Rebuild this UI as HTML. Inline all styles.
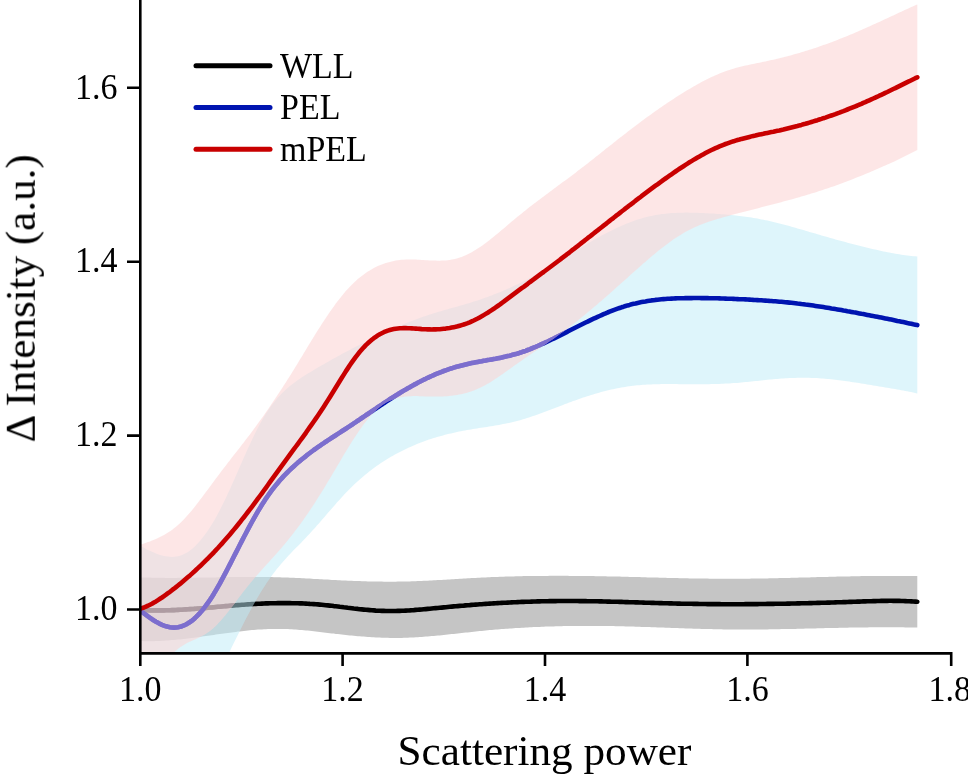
<!DOCTYPE html>
<html><head><meta charset="utf-8"><style>html,body{margin:0;padding:0;background:#fff;}svg{display:block}</style></head>
<body><svg width="968" height="776" viewBox="0 0 968 776">
<defs><clipPath id="pa"><rect x="140" y="0" width="828" height="653"/></clipPath>
<clipPath id="mb"><path d="M140.0,544.8 L142.0,544.2 L144.0,543.5 L146.0,542.8 L148.0,542.1 L150.0,541.4 L152.0,540.6 L154.0,539.8 L156.0,539.0 L158.0,538.1 L160.0,537.1 L162.0,536.1 L164.0,535.0 L166.0,533.8 L168.0,532.6 L170.0,531.3 L172.0,529.9 L174.0,528.3 L176.0,526.7 L178.0,525.0 L180.0,523.2 L182.0,521.2 L184.0,519.2 L186.0,517.1 L188.0,514.8 L190.0,512.5 L192.0,510.2 L194.0,507.7 L195.9,505.2 L197.9,502.7 L199.9,500.1 L201.9,497.4 L203.9,494.8 L205.9,492.1 L207.9,489.4 L209.9,486.7 L211.9,483.9 L213.9,481.2 L215.9,478.5 L217.9,475.9 L219.9,473.2 L221.9,470.6 L223.9,468.0 L225.9,465.4 L227.9,462.8 L229.9,460.2 L231.9,457.6 L233.9,455.1 L235.9,452.5 L237.9,449.9 L239.9,447.4 L241.9,444.8 L243.9,442.2 L245.9,439.6 L247.9,437.0 L249.9,434.4 L251.9,431.7 L253.9,429.0 L255.9,426.3 L257.9,423.6 L259.9,420.8 L261.9,418.0 L263.9,415.2 L265.9,412.3 L267.9,409.4 L269.9,406.5 L271.9,403.6 L273.9,400.6 L275.9,397.6 L277.9,394.6 L279.9,391.5 L281.9,388.4 L283.9,385.3 L285.9,382.2 L287.9,379.0 L289.9,375.9 L291.9,372.7 L293.9,369.4 L295.9,366.2 L297.9,362.9 L299.9,359.6 L301.9,356.4 L303.9,353.1 L305.9,349.8 L307.8,346.5 L309.8,343.2 L311.8,340.0 L313.8,336.7 L315.8,333.5 L317.8,330.3 L319.8,327.2 L321.8,324.1 L323.8,321.0 L325.8,318.0 L327.8,315.0 L329.8,312.1 L331.8,309.2 L333.8,306.4 L335.8,303.6 L337.8,301.0 L339.8,298.4 L341.8,295.9 L343.8,293.5 L345.8,291.1 L347.8,288.9 L349.8,286.7 L351.8,284.7 L353.8,282.7 L355.8,280.9 L357.8,279.1 L359.8,277.5 L361.8,275.9 L363.8,274.4 L365.8,273.0 L367.8,271.6 L369.8,270.4 L371.8,269.2 L373.8,268.1 L375.8,267.1 L377.8,266.1 L379.8,265.3 L381.8,264.5 L383.8,263.7 L385.8,263.0 L387.8,262.4 L389.8,261.9 L391.8,261.4 L393.8,261.0 L395.8,260.6 L397.8,260.3 L399.8,260.0 L401.8,259.8 L403.8,259.7 L405.8,259.6 L407.8,259.5 L409.8,259.5 L411.8,259.5 L413.8,259.5 L415.8,259.6 L417.7,259.7 L419.7,259.8 L421.7,259.9 L423.7,260.0 L425.7,260.2 L427.7,260.3 L429.7,260.4 L431.7,260.5 L433.7,260.6 L435.7,260.6 L437.7,260.7 L439.7,260.7 L441.7,260.6 L443.7,260.5 L445.7,260.4 L447.7,260.2 L449.7,259.9 L451.7,259.6 L453.7,259.2 L455.7,258.8 L457.7,258.2 L459.7,257.6 L461.7,256.9 L463.7,256.1 L465.7,255.3 L467.7,254.3 L469.7,253.3 L471.7,252.2 L473.7,251.0 L475.7,249.8 L477.7,248.6 L479.7,247.2 L481.7,245.9 L483.7,244.4 L485.7,243.0 L487.7,241.5 L489.7,239.9 L491.7,238.3 L493.7,236.7 L495.7,235.1 L497.7,233.5 L499.7,231.8 L501.7,230.1 L503.7,228.4 L505.7,226.7 L507.7,225.0 L509.7,223.3 L511.7,221.6 L513.7,220.0 L515.7,218.3 L517.7,216.6 L519.7,215.0 L521.7,213.4 L523.7,211.8 L525.7,210.2 L527.7,208.6 L529.6,207.0 L531.6,205.5 L533.6,204.0 L535.6,202.4 L537.6,200.9 L539.6,199.4 L541.6,197.9 L543.6,196.4 L545.6,194.9 L547.6,193.4 L549.6,192.0 L551.6,190.5 L553.6,189.0 L555.6,187.5 L557.6,186.1 L559.6,184.6 L561.6,183.1 L563.6,181.6 L565.6,180.2 L567.6,178.7 L569.6,177.2 L571.6,175.7 L573.6,174.2 L575.6,172.7 L577.6,171.1 L579.6,169.6 L581.6,168.1 L583.6,166.5 L585.6,164.9 L587.6,163.4 L589.6,161.8 L591.6,160.2 L593.6,158.7 L595.6,157.1 L597.6,155.5 L599.6,153.9 L601.6,152.3 L603.6,150.7 L605.6,149.1 L607.6,147.5 L609.6,146.0 L611.6,144.4 L613.6,142.8 L615.6,141.2 L617.6,139.6 L619.6,138.0 L621.6,136.5 L623.6,134.9 L625.6,133.4 L627.6,131.8 L629.6,130.3 L631.6,128.7 L633.6,127.2 L635.6,125.7 L637.6,124.2 L639.6,122.7 L641.5,121.2 L643.5,119.7 L645.5,118.3 L647.5,116.8 L649.5,115.4 L651.5,113.9 L653.5,112.5 L655.5,111.1 L657.5,109.7 L659.5,108.3 L661.5,106.9 L663.5,105.5 L665.5,104.2 L667.5,102.8 L669.5,101.5 L671.5,100.2 L673.5,98.9 L675.5,97.6 L677.5,96.3 L679.5,95.0 L681.5,93.8 L683.5,92.5 L685.5,91.3 L687.5,90.1 L689.5,88.9 L691.5,87.7 L693.5,86.6 L695.5,85.4 L697.5,84.3 L699.5,83.2 L701.5,82.1 L703.5,81.1 L705.5,80.0 L707.5,79.0 L709.5,78.1 L711.5,77.1 L713.5,76.2 L715.5,75.3 L717.5,74.4 L719.5,73.6 L721.5,72.8 L723.5,72.0 L725.5,71.3 L727.5,70.6 L729.5,69.9 L731.5,69.3 L733.5,68.7 L735.5,68.1 L737.5,67.6 L739.5,67.1 L741.5,66.6 L743.5,66.1 L745.5,65.6 L747.5,65.2 L749.5,64.7 L751.4,64.3 L753.4,63.9 L755.4,63.5 L757.4,63.1 L759.4,62.7 L761.4,62.2 L763.4,61.8 L765.4,61.4 L767.4,61.0 L769.4,60.6 L771.4,60.1 L773.4,59.7 L775.4,59.2 L777.4,58.7 L779.4,58.3 L781.4,57.8 L783.4,57.3 L785.4,56.8 L787.4,56.2 L789.4,55.7 L791.4,55.2 L793.4,54.6 L795.4,54.0 L797.4,53.5 L799.4,52.9 L801.4,52.3 L803.4,51.7 L805.4,51.1 L807.4,50.5 L809.4,49.8 L811.4,49.2 L813.4,48.5 L815.4,47.9 L817.4,47.2 L819.4,46.5 L821.4,45.8 L823.4,45.1 L825.4,44.4 L827.4,43.7 L829.4,42.9 L831.4,42.2 L833.4,41.4 L835.4,40.7 L837.4,39.9 L839.4,39.1 L841.4,38.3 L843.4,37.5 L845.4,36.7 L847.4,35.9 L849.4,35.1 L851.4,34.3 L853.4,33.4 L855.4,32.6 L857.4,31.7 L859.4,30.8 L861.4,30.0 L863.3,29.1 L865.3,28.2 L867.3,27.3 L869.3,26.4 L871.3,25.5 L873.3,24.6 L875.3,23.7 L877.3,22.8 L879.3,21.9 L881.3,20.9 L883.3,20.0 L885.3,19.1 L887.3,18.2 L889.3,17.2 L891.3,16.3 L893.3,15.4 L895.3,14.4 L897.3,13.5 L899.3,12.6 L901.3,11.7 L903.3,10.7 L905.3,9.8 L907.3,8.9 L909.3,8.0 L911.3,7.1 L913.3,6.2 L915.3,5.3 L917.3,4.4 L917.3,149.9 L915.3,151.0 L913.3,152.1 L911.3,153.1 L909.3,154.1 L907.3,155.1 L905.3,156.1 L903.3,157.1 L901.3,158.1 L899.3,159.1 L897.3,160.0 L895.3,160.9 L893.3,161.9 L891.3,162.8 L889.3,163.7 L887.3,164.6 L885.3,165.5 L883.3,166.3 L881.3,167.2 L879.3,168.1 L877.3,169.0 L875.3,169.8 L873.3,170.7 L871.3,171.5 L869.3,172.4 L867.3,173.2 L865.3,174.0 L863.3,174.9 L861.3,175.7 L859.3,176.5 L857.3,177.3 L855.3,178.1 L853.3,178.9 L851.3,179.7 L849.3,180.5 L847.3,181.2 L845.3,182.0 L843.3,182.8 L841.3,183.5 L839.3,184.2 L837.3,185.0 L835.3,185.7 L833.3,186.4 L831.3,187.1 L829.3,187.8 L827.3,188.5 L825.3,189.1 L823.3,189.8 L821.3,190.5 L819.3,191.1 L817.3,191.8 L815.3,192.4 L813.3,193.0 L811.3,193.6 L809.3,194.2 L807.3,194.8 L805.3,195.4 L803.3,196.0 L801.3,196.6 L799.3,197.2 L797.3,197.8 L795.3,198.3 L793.2,198.9 L791.2,199.4 L789.2,200.0 L787.2,200.5 L785.2,201.1 L783.2,201.6 L781.2,202.2 L779.2,202.7 L777.2,203.2 L775.2,203.7 L773.2,204.3 L771.2,204.8 L769.2,205.3 L767.2,205.8 L765.2,206.3 L763.2,206.8 L761.2,207.3 L759.2,207.9 L757.2,208.4 L755.2,208.9 L753.2,209.4 L751.2,209.9 L749.2,210.4 L747.2,210.9 L745.2,211.4 L743.2,212.0 L741.2,212.5 L739.2,213.0 L737.2,213.5 L735.2,214.1 L733.2,214.6 L731.2,215.1 L729.2,215.7 L727.2,216.2 L725.2,216.8 L723.2,217.3 L721.2,217.9 L719.2,218.5 L717.2,219.1 L715.2,219.7 L713.2,220.3 L711.2,220.9 L709.2,221.6 L707.2,222.3 L705.2,223.0 L703.2,223.8 L701.2,224.5 L699.2,225.3 L697.2,226.2 L695.2,227.1 L693.2,228.0 L691.2,228.9 L689.2,229.9 L687.2,231.0 L685.2,232.1 L683.2,233.2 L681.2,234.4 L679.2,235.7 L677.2,237.0 L675.2,238.3 L673.2,239.6 L671.2,241.0 L669.2,242.5 L667.2,243.9 L665.2,245.4 L663.2,247.0 L661.2,248.5 L659.2,250.1 L657.2,251.7 L655.2,253.4 L653.2,255.1 L651.2,256.7 L649.2,258.4 L647.2,260.2 L645.2,261.9 L643.2,263.6 L641.2,265.4 L639.2,267.2 L637.2,268.9 L635.2,270.7 L633.2,272.5 L631.2,274.3 L629.2,276.1 L627.2,277.9 L625.2,279.7 L623.2,281.5 L621.2,283.3 L619.2,285.1 L617.2,286.8 L615.2,288.6 L613.2,290.4 L611.2,292.2 L609.2,293.9 L607.2,295.7 L605.2,297.4 L603.2,299.2 L601.2,300.9 L599.2,302.6 L597.2,304.4 L595.2,306.1 L593.2,307.8 L591.2,309.5 L589.2,311.1 L587.2,312.8 L585.2,314.5 L583.2,316.1 L581.2,317.7 L579.2,319.3 L577.2,320.9 L575.2,322.5 L573.2,324.1 L571.2,325.6 L569.2,327.2 L567.2,328.7 L565.2,330.2 L563.2,331.7 L561.2,333.1 L559.2,334.6 L557.2,336.0 L555.2,337.4 L553.2,338.9 L551.2,340.3 L549.2,341.6 L547.2,343.0 L545.1,344.4 L543.1,345.8 L541.1,347.1 L539.1,348.5 L537.1,349.9 L535.1,351.2 L533.1,352.6 L531.1,354.0 L529.1,355.3 L527.1,356.7 L525.1,358.1 L523.1,359.5 L521.1,360.9 L519.1,362.3 L517.1,363.7 L515.1,365.1 L513.1,366.5 L511.1,368.0 L509.1,369.4 L507.1,370.8 L505.1,372.3 L503.1,373.7 L501.1,375.1 L499.1,376.4 L497.1,377.8 L495.1,379.1 L493.1,380.4 L491.1,381.7 L489.1,382.9 L487.1,384.1 L485.1,385.2 L483.1,386.3 L481.1,387.3 L479.1,388.2 L477.1,389.1 L475.1,390.0 L473.1,390.7 L471.1,391.5 L469.1,392.1 L467.1,392.7 L465.1,393.3 L463.1,393.8 L461.1,394.2 L459.1,394.6 L457.1,395.0 L455.1,395.3 L453.1,395.6 L451.1,395.8 L449.1,396.0 L447.1,396.2 L445.1,396.3 L443.1,396.4 L441.1,396.5 L439.1,396.5 L437.1,396.6 L435.1,396.6 L433.1,396.6 L431.1,396.5 L429.1,396.5 L427.1,396.4 L425.1,396.4 L423.1,396.3 L421.1,396.2 L419.1,396.2 L417.1,396.1 L415.1,396.1 L413.1,396.1 L411.1,396.2 L409.1,396.3 L407.1,396.4 L405.1,396.6 L403.1,396.9 L401.1,397.2 L399.1,397.6 L397.1,398.1 L395.1,398.7 L393.1,399.4 L391.1,400.2 L389.1,401.1 L387.1,402.1 L385.1,403.2 L383.1,404.5 L381.1,405.9 L379.1,407.5 L377.1,409.2 L375.1,411.0 L373.1,413.1 L371.1,415.2 L369.1,417.5 L367.1,419.9 L365.1,422.5 L363.1,425.1 L361.1,427.9 L359.1,430.8 L357.1,433.7 L355.1,436.7 L353.1,439.8 L351.1,443.0 L349.1,446.2 L347.1,449.5 L345.1,452.8 L343.1,456.1 L341.1,459.5 L339.1,462.9 L337.1,466.3 L335.1,469.7 L333.1,473.1 L331.1,476.4 L329.1,479.8 L327.1,483.1 L325.1,486.4 L323.1,489.7 L321.1,492.9 L319.1,496.1 L317.1,499.2 L315.1,502.4 L313.1,505.4 L311.1,508.5 L309.1,511.5 L307.1,514.4 L305.1,517.3 L303.1,520.2 L301.1,523.0 L299.1,525.7 L297.0,528.5 L295.0,531.1 L293.0,533.7 L291.0,536.3 L289.0,538.8 L287.0,541.3 L285.0,543.7 L283.0,546.0 L281.0,548.4 L279.0,550.7 L277.0,552.9 L275.0,555.2 L273.0,557.4 L271.0,559.6 L269.0,561.9 L267.0,564.1 L265.0,566.3 L263.0,568.5 L261.0,570.8 L259.0,573.0 L257.0,575.3 L255.0,577.6 L253.0,580.0 L251.0,582.3 L249.0,584.8 L247.0,587.2 L245.0,589.8 L243.0,592.3 L241.0,595.0 L239.0,597.6 L237.0,600.2 L235.0,602.9 L233.0,605.5 L231.0,608.1 L229.0,610.7 L227.0,613.2 L225.0,615.7 L223.0,618.1 L221.0,620.4 L219.0,622.6 L217.0,624.7 L215.0,626.7 L213.0,628.5 L211.0,630.2 L209.0,631.7 L207.0,633.1 L205.0,634.4 L203.0,635.5 L201.0,636.6 L199.0,637.5 L197.0,638.5 L195.0,639.4 L193.0,640.3 L191.0,641.2 L189.0,642.1 L187.0,643.1 L185.0,644.2 L183.0,645.4 L181.0,646.7 L179.0,648.1 L177.0,649.7 L175.0,651.4 L173.0,653.4 L153.0,760.0 L140.0,760.0 Z"/></clipPath></defs>
<rect width="968" height="776" fill="#fff"/>
<g clip-path="url(#pa)">
<path d="M140.0,577.4 L142.0,577.4 L144.0,577.5 L146.0,577.5 L148.0,577.6 L150.0,577.6 L152.0,577.7 L154.0,577.7 L156.0,577.8 L158.0,577.8 L160.0,577.8 L162.0,577.8 L164.0,577.8 L166.0,577.9 L168.0,577.9 L170.0,577.9 L172.0,577.9 L174.0,577.9 L176.0,577.9 L178.0,577.8 L180.0,577.8 L182.0,577.8 L184.0,577.8 L186.0,577.8 L188.0,577.8 L190.0,577.7 L192.0,577.7 L194.0,577.7 L195.9,577.7 L197.9,577.6 L199.9,577.6 L201.9,577.6 L203.9,577.6 L205.9,577.5 L207.9,577.5 L209.9,577.5 L211.9,577.4 L213.9,577.4 L215.9,577.4 L217.9,577.3 L219.9,577.3 L221.9,577.3 L223.9,577.2 L225.9,577.2 L227.9,577.2 L229.9,577.1 L231.9,577.1 L233.9,577.1 L235.9,577.1 L237.9,577.1 L239.9,577.0 L241.9,577.0 L243.9,577.0 L245.9,577.0 L247.9,577.0 L249.9,577.0 L251.9,577.0 L253.9,577.0 L255.9,577.0 L257.9,577.0 L259.9,577.0 L261.9,577.0 L263.9,577.0 L265.9,577.0 L267.9,577.1 L269.9,577.1 L271.9,577.1 L273.9,577.2 L275.9,577.2 L277.9,577.3 L279.9,577.3 L281.9,577.4 L283.9,577.5 L285.9,577.5 L287.9,577.6 L289.9,577.7 L291.9,577.8 L293.9,577.8 L295.9,577.9 L297.9,578.0 L299.9,578.1 L301.9,578.2 L303.9,578.3 L305.9,578.4 L307.8,578.5 L309.8,578.6 L311.8,578.8 L313.8,578.9 L315.8,579.0 L317.8,579.1 L319.8,579.2 L321.8,579.3 L323.8,579.4 L325.8,579.5 L327.8,579.6 L329.8,579.8 L331.8,579.9 L333.8,580.0 L335.8,580.1 L337.8,580.2 L339.8,580.3 L341.8,580.4 L343.8,580.5 L345.8,580.6 L347.8,580.7 L349.8,580.8 L351.8,580.8 L353.8,580.9 L355.8,581.0 L357.8,581.1 L359.8,581.1 L361.8,581.2 L363.8,581.3 L365.8,581.3 L367.8,581.4 L369.8,581.4 L371.8,581.5 L373.8,581.5 L375.8,581.6 L377.8,581.6 L379.8,581.6 L381.8,581.6 L383.8,581.7 L385.8,581.7 L387.8,581.7 L389.8,581.7 L391.8,581.7 L393.8,581.7 L395.8,581.7 L397.8,581.6 L399.8,581.6 L401.8,581.6 L403.8,581.5 L405.8,581.5 L407.8,581.4 L409.8,581.4 L411.8,581.3 L413.8,581.3 L415.8,581.2 L417.7,581.1 L419.7,581.0 L421.7,580.9 L423.7,580.8 L425.7,580.8 L427.7,580.7 L429.7,580.6 L431.7,580.5 L433.7,580.3 L435.7,580.2 L437.7,580.1 L439.7,580.0 L441.7,579.9 L443.7,579.8 L445.7,579.7 L447.7,579.5 L449.7,579.4 L451.7,579.3 L453.7,579.2 L455.7,579.1 L457.7,578.9 L459.7,578.8 L461.7,578.7 L463.7,578.6 L465.7,578.4 L467.7,578.3 L469.7,578.2 L471.7,578.1 L473.7,578.0 L475.7,577.9 L477.7,577.8 L479.7,577.7 L481.7,577.6 L483.7,577.5 L485.7,577.4 L487.7,577.3 L489.7,577.2 L491.7,577.1 L493.7,577.0 L495.7,577.0 L497.7,576.9 L499.7,576.8 L501.7,576.7 L503.7,576.7 L505.7,576.6 L507.7,576.5 L509.7,576.5 L511.7,576.4 L513.7,576.4 L515.7,576.3 L517.7,576.3 L519.7,576.2 L521.7,576.2 L523.7,576.1 L525.7,576.1 L527.7,576.1 L529.6,576.0 L531.6,576.0 L533.6,576.0 L535.6,576.0 L537.6,575.9 L539.6,575.9 L541.6,575.9 L543.6,575.9 L545.6,575.9 L547.6,575.9 L549.6,575.8 L551.6,575.8 L553.6,575.8 L555.6,575.8 L557.6,575.8 L559.6,575.8 L561.6,575.8 L563.6,575.8 L565.6,575.8 L567.6,575.8 L569.6,575.9 L571.6,575.9 L573.6,575.9 L575.6,575.9 L577.6,575.9 L579.6,575.9 L581.6,576.0 L583.6,576.0 L585.6,576.0 L587.6,576.0 L589.6,576.1 L591.6,576.1 L593.6,576.1 L595.6,576.2 L597.6,576.2 L599.6,576.2 L601.6,576.3 L603.6,576.3 L605.6,576.3 L607.6,576.4 L609.6,576.4 L611.6,576.5 L613.6,576.5 L615.6,576.5 L617.6,576.6 L619.6,576.6 L621.6,576.7 L623.6,576.7 L625.6,576.8 L627.6,576.8 L629.6,576.9 L631.6,576.9 L633.6,577.0 L635.6,577.0 L637.6,577.1 L639.6,577.1 L641.5,577.2 L643.5,577.2 L645.5,577.3 L647.5,577.4 L649.5,577.4 L651.5,577.5 L653.5,577.5 L655.5,577.6 L657.5,577.6 L659.5,577.7 L661.5,577.7 L663.5,577.8 L665.5,577.8 L667.5,577.9 L669.5,577.9 L671.5,578.0 L673.5,578.0 L675.5,578.1 L677.5,578.1 L679.5,578.2 L681.5,578.2 L683.5,578.2 L685.5,578.3 L687.5,578.3 L689.5,578.4 L691.5,578.4 L693.5,578.4 L695.5,578.5 L697.5,578.5 L699.5,578.5 L701.5,578.6 L703.5,578.6 L705.5,578.6 L707.5,578.6 L709.5,578.7 L711.5,578.7 L713.5,578.7 L715.5,578.7 L717.5,578.7 L719.5,578.8 L721.5,578.8 L723.5,578.8 L725.5,578.8 L727.5,578.8 L729.5,578.8 L731.5,578.8 L733.5,578.8 L735.5,578.8 L737.5,578.8 L739.5,578.7 L741.5,578.7 L743.5,578.7 L745.5,578.7 L747.5,578.7 L749.5,578.7 L751.4,578.6 L753.4,578.6 L755.4,578.6 L757.4,578.5 L759.4,578.5 L761.4,578.5 L763.4,578.4 L765.4,578.4 L767.4,578.4 L769.4,578.3 L771.4,578.3 L773.4,578.2 L775.4,578.2 L777.4,578.2 L779.4,578.1 L781.4,578.1 L783.4,578.0 L785.4,578.0 L787.4,577.9 L789.4,577.9 L791.4,577.8 L793.4,577.8 L795.4,577.7 L797.4,577.7 L799.4,577.6 L801.4,577.6 L803.4,577.5 L805.4,577.5 L807.4,577.4 L809.4,577.4 L811.4,577.3 L813.4,577.2 L815.4,577.2 L817.4,577.1 L819.4,577.1 L821.4,577.0 L823.4,577.0 L825.4,576.9 L827.4,576.9 L829.4,576.8 L831.4,576.8 L833.4,576.7 L835.4,576.7 L837.4,576.6 L839.4,576.6 L841.4,576.5 L843.4,576.5 L845.4,576.4 L847.4,576.4 L849.4,576.4 L851.4,576.3 L853.4,576.3 L855.4,576.2 L857.4,576.2 L859.4,576.2 L861.4,576.1 L863.3,576.1 L865.3,576.1 L867.3,576.1 L869.3,576.0 L871.3,576.0 L873.3,576.0 L875.3,576.0 L877.3,575.9 L879.3,575.9 L881.3,575.9 L883.3,575.9 L885.3,575.9 L887.3,575.9 L889.3,575.9 L891.3,575.9 L893.3,575.9 L895.3,575.9 L897.3,575.9 L899.3,575.9 L901.3,575.9 L903.3,575.9 L905.3,576.0 L907.3,576.0 L909.3,576.0 L911.3,576.0 L913.3,576.1 L915.3,576.1 L917.3,576.1 L917.3,627.6 L915.3,627.6 L913.3,627.5 L911.3,627.5 L909.3,627.4 L907.3,627.4 L905.3,627.4 L903.3,627.3 L901.3,627.3 L899.3,627.3 L897.3,627.3 L895.3,627.3 L893.3,627.3 L891.3,627.3 L889.3,627.3 L887.3,627.2 L885.3,627.2 L883.3,627.3 L881.3,627.3 L879.3,627.3 L877.3,627.3 L875.3,627.3 L873.3,627.3 L871.3,627.3 L869.3,627.3 L867.3,627.4 L865.3,627.4 L863.3,627.4 L861.4,627.4 L859.4,627.5 L857.4,627.5 L855.4,627.5 L853.4,627.6 L851.4,627.6 L849.4,627.6 L847.4,627.7 L845.4,627.7 L843.4,627.8 L841.4,627.8 L839.4,627.8 L837.4,627.9 L835.4,627.9 L833.4,628.0 L831.4,628.0 L829.4,628.1 L827.4,628.1 L825.4,628.1 L823.4,628.2 L821.4,628.2 L819.4,628.3 L817.4,628.3 L815.4,628.4 L813.4,628.4 L811.4,628.5 L809.4,628.5 L807.4,628.6 L805.4,628.6 L803.4,628.7 L801.4,628.7 L799.4,628.8 L797.4,628.8 L795.4,628.9 L793.4,628.9 L791.4,628.9 L789.4,629.0 L787.4,629.0 L785.4,629.1 L783.4,629.1 L781.4,629.1 L779.4,629.2 L777.4,629.2 L775.4,629.2 L773.4,629.3 L771.4,629.3 L769.4,629.3 L767.4,629.4 L765.4,629.4 L763.4,629.4 L761.4,629.4 L759.4,629.5 L757.4,629.5 L755.4,629.5 L753.4,629.5 L751.4,629.5 L749.5,629.5 L747.5,629.5 L745.5,629.5 L743.5,629.5 L741.5,629.5 L739.5,629.5 L737.5,629.5 L735.5,629.5 L733.5,629.5 L731.5,629.5 L729.5,629.5 L727.5,629.4 L725.5,629.4 L723.5,629.4 L721.5,629.3 L719.5,629.3 L717.5,629.3 L715.5,629.2 L713.5,629.2 L711.5,629.1 L709.5,629.1 L707.5,629.1 L705.5,629.0 L703.5,628.9 L701.5,628.9 L699.5,628.8 L697.5,628.8 L695.5,628.7 L693.5,628.7 L691.5,628.6 L689.5,628.5 L687.5,628.5 L685.5,628.4 L683.5,628.3 L681.5,628.3 L679.5,628.2 L677.5,628.1 L675.5,628.1 L673.5,628.0 L671.5,627.9 L669.5,627.8 L667.5,627.8 L665.5,627.7 L663.5,627.6 L661.5,627.5 L659.5,627.5 L657.5,627.4 L655.5,627.3 L653.5,627.3 L651.5,627.2 L649.5,627.1 L647.5,627.1 L645.5,627.0 L643.5,626.9 L641.5,626.9 L639.6,626.8 L637.6,626.7 L635.6,626.7 L633.6,626.6 L631.6,626.6 L629.6,626.5 L627.6,626.4 L625.6,626.4 L623.6,626.3 L621.6,626.3 L619.6,626.2 L617.6,626.2 L615.6,626.2 L613.6,626.1 L611.6,626.1 L609.6,626.0 L607.6,626.0 L605.6,626.0 L603.6,626.0 L601.6,625.9 L599.6,625.9 L597.6,625.9 L595.6,625.9 L593.6,625.9 L591.6,625.9 L589.6,625.9 L587.6,625.9 L585.6,625.9 L583.6,625.9 L581.6,625.9 L579.6,625.9 L577.6,625.9 L575.6,625.9 L573.6,626.0 L571.6,626.0 L569.6,626.0 L567.6,626.0 L565.6,626.1 L563.6,626.1 L561.6,626.2 L559.6,626.2 L557.6,626.3 L555.6,626.3 L553.6,626.4 L551.6,626.4 L549.6,626.5 L547.6,626.6 L545.6,626.6 L543.6,626.7 L541.6,626.8 L539.6,626.9 L537.6,626.9 L535.6,627.0 L533.6,627.1 L531.6,627.2 L529.6,627.3 L527.7,627.4 L525.7,627.5 L523.7,627.7 L521.7,627.8 L519.7,627.9 L517.7,628.0 L515.7,628.1 L513.7,628.3 L511.7,628.4 L509.7,628.5 L507.7,628.7 L505.7,628.8 L503.7,629.0 L501.7,629.1 L499.7,629.3 L497.7,629.5 L495.7,629.6 L493.7,629.8 L491.7,630.0 L489.7,630.1 L487.7,630.3 L485.7,630.5 L483.7,630.7 L481.7,630.9 L479.7,631.1 L477.7,631.3 L475.7,631.5 L473.7,631.7 L471.7,631.9 L469.7,632.2 L467.7,632.4 L465.7,632.6 L463.7,632.8 L461.7,633.0 L459.7,633.3 L457.7,633.5 L455.7,633.7 L453.7,633.9 L451.7,634.1 L449.7,634.3 L447.7,634.6 L445.7,634.8 L443.7,635.0 L441.7,635.2 L439.7,635.4 L437.7,635.6 L435.7,635.8 L433.7,636.0 L431.7,636.1 L429.7,636.3 L427.7,636.5 L425.7,636.6 L423.7,636.8 L421.7,636.9 L419.7,637.1 L417.7,637.2 L415.8,637.3 L413.8,637.4 L411.8,637.5 L409.8,637.6 L407.8,637.7 L405.8,637.8 L403.8,637.8 L401.8,637.9 L399.8,637.9 L397.8,637.9 L395.8,637.9 L393.8,637.9 L391.8,637.9 L389.8,637.9 L387.8,637.8 L385.8,637.8 L383.8,637.7 L381.8,637.7 L379.8,637.6 L377.8,637.5 L375.8,637.4 L373.8,637.3 L371.8,637.2 L369.8,637.1 L367.8,636.9 L365.8,636.8 L363.8,636.6 L361.8,636.5 L359.8,636.3 L357.8,636.2 L355.8,636.0 L353.8,635.8 L351.8,635.6 L349.8,635.4 L347.8,635.2 L345.8,635.0 L343.8,634.8 L341.8,634.6 L339.8,634.3 L337.8,634.1 L335.8,633.9 L333.8,633.6 L331.8,633.4 L329.8,633.2 L327.8,632.9 L325.8,632.7 L323.8,632.4 L321.8,632.2 L319.8,632.0 L317.8,631.7 L315.8,631.5 L313.8,631.3 L311.8,631.0 L309.8,630.8 L307.8,630.6 L305.9,630.4 L303.9,630.2 L301.9,630.1 L299.9,629.9 L297.9,629.7 L295.9,629.6 L293.9,629.4 L291.9,629.3 L289.9,629.2 L287.9,629.1 L285.9,629.0 L283.9,629.0 L281.9,628.9 L279.9,628.9 L277.9,628.9 L275.9,628.9 L273.9,628.9 L271.9,628.9 L269.9,629.0 L267.9,629.1 L265.9,629.2 L263.9,629.3 L261.9,629.4 L259.9,629.5 L257.9,629.6 L255.9,629.8 L253.9,630.0 L251.9,630.1 L249.9,630.3 L247.9,630.5 L245.9,630.7 L243.9,631.0 L241.9,631.2 L239.9,631.4 L237.9,631.6 L235.9,631.9 L233.9,632.2 L231.9,632.4 L229.9,632.7 L227.9,632.9 L225.9,633.2 L223.9,633.5 L221.9,633.8 L219.9,634.1 L217.9,634.3 L215.9,634.6 L213.9,634.9 L211.9,635.2 L209.9,635.5 L207.9,635.8 L205.9,636.1 L203.9,636.3 L201.9,636.6 L199.9,636.9 L197.9,637.2 L195.9,637.4 L194.0,637.7 L192.0,638.0 L190.0,638.2 L188.0,638.5 L186.0,638.7 L184.0,638.9 L182.0,639.2 L180.0,639.4 L178.0,639.6 L176.0,639.8 L174.0,640.0 L172.0,640.1 L170.0,640.3 L168.0,640.5 L166.0,640.6 L164.0,640.7 L162.0,640.8 L160.0,640.9 L158.0,641.0 L156.0,641.1 L154.0,641.2 L152.0,641.2 L150.0,641.2 L148.0,641.2 L146.0,641.2 L144.0,641.2 L142.0,641.1 L140.0,641.1 Z" fill="#c5c5c5"/>
<path d="M140.0,610.0 L142.0,610.1 L144.0,610.2 L146.0,610.3 L148.0,610.3 L150.0,610.4 L152.0,610.4 L154.0,610.4 L156.0,610.4 L158.0,610.4 L160.0,610.4 L162.0,610.4 L164.0,610.4 L166.0,610.3 L168.0,610.3 L170.0,610.2 L172.0,610.1 L174.0,610.1 L176.0,610.0 L178.0,609.9 L180.0,609.8 L182.0,609.7 L184.0,609.5 L186.0,609.4 L188.0,609.3 L190.0,609.1 L192.0,609.0 L194.0,608.9 L195.9,608.7 L197.9,608.5 L199.9,608.4 L201.9,608.2 L203.9,608.1 L205.9,607.9 L207.9,607.7 L209.9,607.5 L211.9,607.4 L213.9,607.2 L215.9,607.0 L217.9,606.8 L219.9,606.7 L221.9,606.5 L223.9,606.3 L225.9,606.1 L227.9,606.0 L229.9,605.8 L231.9,605.6 L233.9,605.5 L235.9,605.3 L237.9,605.1 L239.9,605.0 L241.9,604.8 L243.9,604.7 L245.9,604.5 L247.9,604.4 L249.9,604.3 L251.9,604.1 L253.9,604.0 L255.9,603.9 L257.9,603.8 L259.9,603.7 L261.9,603.6 L263.9,603.5 L265.9,603.4 L267.9,603.4 L269.9,603.3 L271.9,603.2 L273.9,603.2 L275.9,603.2 L277.9,603.1 L279.9,603.1 L281.9,603.1 L283.9,603.1 L285.9,603.1 L287.9,603.1 L289.9,603.1 L291.9,603.2 L293.9,603.2 L295.9,603.2 L297.9,603.3 L299.9,603.4 L301.9,603.4 L303.9,603.5 L305.9,603.6 L307.8,603.7 L309.8,603.9 L311.8,604.0 L313.8,604.1 L315.8,604.3 L317.8,604.4 L319.8,604.6 L321.8,604.8 L323.8,605.0 L325.8,605.2 L327.8,605.4 L329.8,605.6 L331.8,605.8 L333.8,606.1 L335.8,606.3 L337.8,606.5 L339.8,606.8 L341.8,607.0 L343.8,607.3 L345.8,607.5 L347.8,607.8 L349.8,608.0 L351.8,608.2 L353.8,608.5 L355.8,608.7 L357.8,608.9 L359.8,609.2 L361.8,609.4 L363.8,609.6 L365.8,609.8 L367.8,609.9 L369.8,610.1 L371.8,610.3 L373.8,610.4 L375.8,610.6 L377.8,610.7 L379.8,610.8 L381.8,610.9 L383.8,610.9 L385.8,611.0 L387.8,611.0 L389.8,611.0 L391.8,611.0 L393.8,611.0 L395.8,611.0 L397.8,610.9 L399.8,610.9 L401.8,610.8 L403.8,610.7 L405.8,610.6 L407.8,610.5 L409.8,610.4 L411.8,610.2 L413.8,610.1 L415.8,609.9 L417.7,609.8 L419.7,609.6 L421.7,609.5 L423.7,609.3 L425.7,609.1 L427.7,608.9 L429.7,608.7 L431.7,608.5 L433.7,608.3 L435.7,608.1 L437.7,608.0 L439.7,607.8 L441.7,607.6 L443.7,607.4 L445.7,607.2 L447.7,607.0 L449.7,606.8 L451.7,606.6 L453.7,606.4 L455.7,606.3 L457.7,606.1 L459.7,605.9 L461.7,605.7 L463.7,605.6 L465.7,605.4 L467.7,605.2 L469.7,605.1 L471.7,604.9 L473.7,604.8 L475.7,604.6 L477.7,604.5 L479.7,604.3 L481.7,604.2 L483.7,604.0 L485.7,603.9 L487.7,603.8 L489.7,603.6 L491.7,603.5 L493.7,603.4 L495.7,603.3 L497.7,603.1 L499.7,603.0 L501.7,602.9 L503.7,602.8 L505.7,602.7 L507.7,602.6 L509.7,602.5 L511.7,602.4 L513.7,602.3 L515.7,602.2 L517.7,602.1 L519.7,602.0 L521.7,601.9 L523.7,601.9 L525.7,601.8 L527.7,601.7 L529.6,601.7 L531.6,601.6 L533.6,601.5 L535.6,601.5 L537.6,601.4 L539.6,601.4 L541.6,601.3 L543.6,601.3 L545.6,601.2 L547.6,601.2 L549.6,601.1 L551.6,601.1 L553.6,601.1 L555.6,601.1 L557.6,601.0 L559.6,601.0 L561.6,601.0 L563.6,601.0 L565.6,601.0 L567.6,601.0 L569.6,601.0 L571.6,601.0 L573.6,601.0 L575.6,601.0 L577.6,601.0 L579.6,601.1 L581.6,601.1 L583.6,601.1 L585.6,601.1 L587.6,601.2 L589.6,601.2 L591.6,601.2 L593.6,601.2 L595.6,601.3 L597.6,601.3 L599.6,601.4 L601.6,601.4 L603.6,601.5 L605.6,601.5 L607.6,601.6 L609.6,601.6 L611.6,601.7 L613.6,601.7 L615.6,601.8 L617.6,601.8 L619.6,601.9 L621.6,601.9 L623.6,602.0 L625.6,602.1 L627.6,602.1 L629.6,602.2 L631.6,602.2 L633.6,602.3 L635.6,602.4 L637.6,602.4 L639.6,602.5 L641.5,602.5 L643.5,602.6 L645.5,602.7 L647.5,602.7 L649.5,602.8 L651.5,602.9 L653.5,602.9 L655.5,603.0 L657.5,603.0 L659.5,603.1 L661.5,603.1 L663.5,603.2 L665.5,603.3 L667.5,603.3 L669.5,603.4 L671.5,603.4 L673.5,603.5 L675.5,603.5 L677.5,603.6 L679.5,603.6 L681.5,603.7 L683.5,603.7 L685.5,603.7 L687.5,603.8 L689.5,603.8 L691.5,603.8 L693.5,603.9 L695.5,603.9 L697.5,603.9 L699.5,604.0 L701.5,604.0 L703.5,604.0 L705.5,604.0 L707.5,604.1 L709.5,604.1 L711.5,604.1 L713.5,604.1 L715.5,604.1 L717.5,604.1 L719.5,604.1 L721.5,604.2 L723.5,604.2 L725.5,604.2 L727.5,604.2 L729.5,604.2 L731.5,604.2 L733.5,604.2 L735.5,604.2 L737.5,604.2 L739.5,604.2 L741.5,604.2 L743.5,604.2 L745.5,604.1 L747.5,604.1 L749.5,604.1 L751.4,604.1 L753.4,604.1 L755.4,604.1 L757.4,604.1 L759.4,604.0 L761.4,604.0 L763.4,604.0 L765.4,604.0 L767.4,603.9 L769.4,603.9 L771.4,603.9 L773.4,603.9 L775.4,603.8 L777.4,603.8 L779.4,603.8 L781.4,603.7 L783.4,603.7 L785.4,603.7 L787.4,603.6 L789.4,603.6 L791.4,603.5 L793.4,603.5 L795.4,603.5 L797.4,603.4 L799.4,603.4 L801.4,603.3 L803.4,603.3 L805.4,603.2 L807.4,603.2 L809.4,603.1 L811.4,603.1 L813.4,603.0 L815.4,603.0 L817.4,602.9 L819.4,602.9 L821.4,602.8 L823.4,602.8 L825.4,602.7 L827.4,602.6 L829.4,602.6 L831.4,602.5 L833.4,602.5 L835.4,602.4 L837.4,602.3 L839.4,602.3 L841.4,602.2 L843.4,602.1 L845.4,602.1 L847.4,602.0 L849.4,601.9 L851.4,601.9 L853.4,601.8 L855.4,601.7 L857.4,601.6 L859.4,601.6 L861.4,601.5 L863.3,601.4 L865.3,601.4 L867.3,601.3 L869.3,601.2 L871.3,601.2 L873.3,601.1 L875.3,601.1 L877.3,601.0 L879.3,601.0 L881.3,600.9 L883.3,600.9 L885.3,600.9 L887.3,600.9 L889.3,600.8 L891.3,600.8 L893.3,600.9 L895.3,600.9 L897.3,600.9 L899.3,600.9 L901.3,601.0 L903.3,601.0 L905.3,601.1 L907.3,601.2 L909.3,601.3 L911.3,601.4 L913.3,601.5 L915.3,601.6 L917.3,601.8 " stroke="#000" fill="none" stroke-width="4.6" stroke-linecap="round" stroke-linejoin="round"/>
<path d="M140.0,545.7 L142.0,546.8 L144.0,547.8 L146.0,548.9 L148.0,549.9 L150.0,550.8 L152.0,551.8 L154.0,552.6 L156.0,553.4 L158.0,554.2 L160.0,554.9 L162.0,555.5 L164.0,556.0 L166.0,556.3 L168.0,556.6 L170.0,556.8 L172.0,556.9 L174.0,556.8 L176.0,556.6 L178.0,556.2 L180.0,555.7 L182.0,555.0 L184.0,554.1 L186.0,553.1 L188.0,551.9 L190.0,550.5 L192.0,548.9 L194.0,547.2 L195.9,545.3 L197.9,543.2 L199.9,541.0 L201.9,538.6 L203.9,536.0 L205.9,533.3 L207.9,530.4 L209.9,527.4 L211.9,524.2 L213.9,520.9 L215.9,517.4 L217.9,513.8 L219.9,510.0 L221.9,506.1 L223.9,502.0 L225.9,497.9 L227.9,493.6 L229.9,489.2 L231.9,484.8 L233.9,480.3 L235.9,475.8 L237.9,471.2 L239.9,466.6 L241.9,462.1 L243.9,457.6 L245.9,453.1 L247.9,448.6 L249.9,444.2 L251.9,440.0 L253.9,435.8 L255.9,431.7 L257.9,427.8 L259.9,424.0 L261.9,420.4 L263.9,417.0 L265.9,413.8 L267.9,410.7 L269.9,407.8 L271.9,405.0 L273.9,402.4 L275.9,400.0 L277.9,397.6 L279.9,395.4 L281.9,393.3 L283.9,391.4 L285.9,389.5 L287.9,387.7 L289.9,386.0 L291.9,384.4 L293.9,382.9 L295.9,381.4 L297.9,380.0 L299.9,378.7 L301.9,377.3 L303.9,376.1 L305.9,374.8 L307.8,373.6 L309.8,372.4 L311.8,371.2 L313.8,370.0 L315.8,368.8 L317.8,367.6 L319.8,366.5 L321.8,365.3 L323.8,364.2 L325.8,363.0 L327.8,361.9 L329.8,360.7 L331.8,359.6 L333.8,358.5 L335.8,357.4 L337.8,356.3 L339.8,355.2 L341.8,354.1 L343.8,353.1 L345.8,352.0 L347.8,350.9 L349.8,349.9 L351.8,348.8 L353.8,347.8 L355.8,346.8 L357.8,345.7 L359.8,344.7 L361.8,343.7 L363.8,342.7 L365.8,341.7 L367.8,340.7 L369.8,339.7 L371.8,338.7 L373.8,337.7 L375.8,336.8 L377.8,335.8 L379.8,334.9 L381.8,333.9 L383.8,333.0 L385.8,332.1 L387.8,331.1 L389.8,330.2 L391.8,329.3 L393.8,328.4 L395.8,327.6 L397.8,326.7 L399.8,325.8 L401.8,325.0 L403.8,324.2 L405.8,323.3 L407.8,322.5 L409.8,321.7 L411.8,321.0 L413.8,320.2 L415.8,319.4 L417.7,318.7 L419.7,318.0 L421.7,317.3 L423.7,316.6 L425.7,315.9 L427.7,315.2 L429.7,314.6 L431.7,313.9 L433.7,313.3 L435.7,312.7 L437.7,312.1 L439.7,311.5 L441.7,310.9 L443.7,310.3 L445.7,309.8 L447.7,309.2 L449.7,308.6 L451.7,308.1 L453.7,307.5 L455.7,306.9 L457.7,306.4 L459.7,305.8 L461.7,305.2 L463.7,304.7 L465.7,304.1 L467.7,303.5 L469.7,302.9 L471.7,302.3 L473.7,301.6 L475.7,301.0 L477.7,300.4 L479.7,299.7 L481.7,299.0 L483.7,298.3 L485.7,297.6 L487.7,296.9 L489.7,296.1 L491.7,295.4 L493.7,294.6 L495.7,293.8 L497.7,293.0 L499.7,292.2 L501.7,291.4 L503.7,290.5 L505.7,289.7 L507.7,288.8 L509.7,287.9 L511.7,287.0 L513.7,286.1 L515.7,285.1 L517.7,284.2 L519.7,283.2 L521.7,282.2 L523.7,281.2 L525.7,280.2 L527.7,279.2 L529.6,278.1 L531.6,277.0 L533.6,276.0 L535.6,274.9 L537.6,273.7 L539.6,272.6 L541.6,271.5 L543.6,270.3 L545.6,269.1 L547.6,267.9 L549.6,266.8 L551.6,265.6 L553.6,264.3 L555.6,263.1 L557.6,261.9 L559.6,260.7 L561.6,259.4 L563.6,258.2 L565.6,257.0 L567.6,255.7 L569.6,254.5 L571.6,253.3 L573.6,252.0 L575.6,250.8 L577.6,249.6 L579.6,248.4 L581.6,247.1 L583.6,245.9 L585.6,244.7 L587.6,243.6 L589.6,242.4 L591.6,241.2 L593.6,240.1 L595.6,238.9 L597.6,237.8 L599.6,236.7 L601.6,235.6 L603.6,234.5 L605.6,233.5 L607.6,232.5 L609.6,231.4 L611.6,230.4 L613.6,229.5 L615.6,228.5 L617.6,227.6 L619.6,226.7 L621.6,225.8 L623.6,224.9 L625.6,224.1 L627.6,223.3 L629.6,222.5 L631.6,221.7 L633.6,221.0 L635.6,220.3 L637.6,219.6 L639.6,219.0 L641.5,218.4 L643.5,217.8 L645.5,217.3 L647.5,216.8 L649.5,216.3 L651.5,215.9 L653.5,215.5 L655.5,215.1 L657.5,214.7 L659.5,214.4 L661.5,214.1 L663.5,213.9 L665.5,213.7 L667.5,213.5 L669.5,213.3 L671.5,213.1 L673.5,213.0 L675.5,212.9 L677.5,212.8 L679.5,212.7 L681.5,212.7 L683.5,212.7 L685.5,212.6 L687.5,212.6 L689.5,212.7 L691.5,212.7 L693.5,212.7 L695.5,212.8 L697.5,212.8 L699.5,212.9 L701.5,213.0 L703.5,213.1 L705.5,213.2 L707.5,213.3 L709.5,213.4 L711.5,213.5 L713.5,213.6 L715.5,213.8 L717.5,213.9 L719.5,214.0 L721.5,214.2 L723.5,214.3 L725.5,214.5 L727.5,214.7 L729.5,214.8 L731.5,215.0 L733.5,215.2 L735.5,215.5 L737.5,215.7 L739.5,215.9 L741.5,216.2 L743.5,216.4 L745.5,216.7 L747.5,217.0 L749.5,217.3 L751.4,217.6 L753.4,217.9 L755.4,218.3 L757.4,218.6 L759.4,219.0 L761.4,219.4 L763.4,219.8 L765.4,220.2 L767.4,220.6 L769.4,221.1 L771.4,221.5 L773.4,222.0 L775.4,222.5 L777.4,223.0 L779.4,223.5 L781.4,224.0 L783.4,224.5 L785.4,225.0 L787.4,225.6 L789.4,226.1 L791.4,226.7 L793.4,227.2 L795.4,227.8 L797.4,228.4 L799.4,228.9 L801.4,229.5 L803.4,230.1 L805.4,230.7 L807.4,231.3 L809.4,231.9 L811.4,232.4 L813.4,233.0 L815.4,233.6 L817.4,234.2 L819.4,234.8 L821.4,235.4 L823.4,236.0 L825.4,236.5 L827.4,237.1 L829.4,237.7 L831.4,238.3 L833.4,238.8 L835.4,239.4 L837.4,239.9 L839.4,240.5 L841.4,241.0 L843.4,241.6 L845.4,242.1 L847.4,242.7 L849.4,243.2 L851.4,243.7 L853.4,244.3 L855.4,244.8 L857.4,245.3 L859.4,245.8 L861.4,246.3 L863.3,246.8 L865.3,247.3 L867.3,247.8 L869.3,248.2 L871.3,248.7 L873.3,249.2 L875.3,249.6 L877.3,250.1 L879.3,250.5 L881.3,251.0 L883.3,251.4 L885.3,251.8 L887.3,252.2 L889.3,252.6 L891.3,253.0 L893.3,253.3 L895.3,253.7 L897.3,254.0 L899.3,254.3 L901.3,254.7 L903.3,254.9 L905.3,255.2 L907.3,255.5 L909.3,255.7 L911.3,256.0 L913.3,256.2 L915.3,256.3 L917.3,256.5 L917.3,393.4 L915.3,393.0 L913.3,392.6 L911.3,392.1 L909.3,391.7 L907.3,391.3 L905.3,390.9 L903.3,390.6 L901.3,390.2 L899.3,389.8 L897.3,389.5 L895.3,389.1 L893.3,388.8 L891.3,388.5 L889.3,388.1 L887.3,387.8 L885.3,387.5 L883.3,387.1 L881.3,386.8 L879.3,386.5 L877.3,386.1 L875.3,385.8 L873.3,385.5 L871.3,385.1 L869.3,384.8 L867.3,384.5 L865.3,384.1 L863.3,383.8 L861.3,383.5 L859.3,383.1 L857.3,382.8 L855.3,382.5 L853.3,382.2 L851.3,381.9 L849.3,381.6 L847.2,381.3 L845.2,381.0 L843.2,380.7 L841.2,380.4 L839.2,380.2 L837.2,379.9 L835.2,379.7 L833.2,379.5 L831.2,379.2 L829.2,379.0 L827.2,378.9 L825.2,378.7 L823.2,378.5 L821.2,378.4 L819.2,378.2 L817.2,378.1 L815.2,378.0 L813.2,377.9 L811.2,377.9 L809.2,377.8 L807.2,377.8 L805.2,377.8 L803.2,377.7 L801.2,377.8 L799.2,377.8 L797.2,377.8 L795.2,377.9 L793.2,377.9 L791.2,378.0 L789.2,378.1 L787.2,378.2 L785.2,378.3 L783.2,378.4 L781.2,378.6 L779.2,378.7 L777.2,378.9 L775.2,379.0 L773.2,379.2 L771.2,379.4 L769.2,379.6 L767.2,379.8 L765.2,380.0 L763.2,380.2 L761.2,380.4 L759.2,380.7 L757.2,380.9 L755.2,381.1 L753.2,381.3 L751.2,381.5 L749.2,381.7 L747.2,381.9 L745.2,382.1 L743.2,382.3 L741.2,382.5 L739.2,382.7 L737.2,382.9 L735.2,383.0 L733.2,383.1 L731.2,383.3 L729.2,383.4 L727.2,383.5 L725.2,383.6 L723.2,383.7 L721.2,383.8 L719.2,383.9 L717.2,384.0 L715.2,384.0 L713.2,384.1 L711.2,384.1 L709.1,384.2 L707.1,384.2 L705.1,384.2 L703.1,384.3 L701.1,384.3 L699.1,384.3 L697.1,384.3 L695.1,384.3 L693.1,384.3 L691.1,384.3 L689.1,384.3 L687.1,384.2 L685.1,384.2 L683.1,384.2 L681.1,384.2 L679.1,384.2 L677.1,384.1 L675.1,384.1 L673.1,384.1 L671.1,384.1 L669.1,384.1 L667.1,384.1 L665.1,384.1 L663.1,384.1 L661.1,384.1 L659.1,384.2 L657.1,384.2 L655.1,384.3 L653.1,384.3 L651.1,384.4 L649.1,384.5 L647.1,384.6 L645.1,384.7 L643.1,384.8 L641.1,385.0 L639.1,385.2 L637.1,385.3 L635.1,385.5 L633.1,385.8 L631.1,386.0 L629.1,386.3 L627.1,386.6 L625.1,386.9 L623.1,387.2 L621.1,387.6 L619.1,388.0 L617.1,388.3 L615.1,388.8 L613.1,389.2 L611.1,389.6 L609.1,390.1 L607.1,390.6 L605.1,391.1 L603.1,391.6 L601.1,392.1 L599.1,392.7 L597.1,393.3 L595.1,393.8 L593.1,394.4 L591.1,395.0 L589.1,395.7 L587.1,396.3 L585.1,397.0 L583.1,397.6 L581.1,398.3 L579.1,399.0 L577.1,399.7 L575.1,400.4 L573.0,401.1 L571.0,401.9 L569.0,402.6 L567.0,403.4 L565.0,404.1 L563.0,404.9 L561.0,405.7 L559.0,406.4 L557.0,407.2 L555.0,408.0 L553.0,408.7 L551.0,409.5 L549.0,410.3 L547.0,411.0 L545.0,411.8 L543.0,412.5 L541.0,413.2 L539.0,414.0 L537.0,414.7 L535.0,415.4 L533.0,416.1 L531.0,416.7 L529.0,417.4 L527.0,418.0 L525.0,418.7 L523.0,419.3 L521.0,419.9 L519.0,420.4 L517.0,420.9 L515.0,421.5 L513.0,422.0 L511.0,422.4 L509.0,422.9 L507.0,423.3 L505.0,423.7 L503.0,424.1 L501.0,424.5 L499.0,424.9 L497.0,425.2 L495.0,425.6 L493.0,425.9 L491.0,426.2 L489.0,426.6 L487.0,426.9 L485.0,427.2 L483.0,427.5 L481.0,427.8 L479.0,428.1 L477.0,428.5 L475.0,428.8 L473.0,429.1 L471.0,429.4 L469.0,429.8 L467.0,430.1 L465.0,430.5 L463.0,430.8 L461.0,431.2 L459.0,431.6 L457.0,432.0 L455.0,432.5 L453.0,432.9 L451.0,433.4 L449.0,433.8 L447.0,434.3 L445.0,434.8 L443.0,435.4 L441.0,435.9 L439.0,436.5 L437.0,437.1 L434.9,437.7 L432.9,438.3 L430.9,439.0 L428.9,439.6 L426.9,440.3 L424.9,441.0 L422.9,441.8 L420.9,442.5 L418.9,443.3 L416.9,444.1 L414.9,444.9 L412.9,445.8 L410.9,446.7 L408.9,447.6 L406.9,448.5 L404.9,449.4 L402.9,450.4 L400.9,451.4 L398.9,452.4 L396.9,453.5 L394.9,454.6 L392.9,455.7 L390.9,456.8 L388.9,458.0 L386.9,459.2 L384.9,460.5 L382.9,461.8 L380.9,463.1 L378.9,464.4 L376.9,465.8 L374.9,467.3 L372.9,468.7 L370.9,470.2 L368.9,471.8 L366.9,473.4 L364.9,475.0 L362.9,476.7 L360.9,478.4 L358.9,480.2 L356.9,482.0 L354.9,483.8 L352.9,485.7 L350.9,487.7 L348.9,489.7 L346.9,491.7 L344.9,493.8 L342.9,496.0 L340.9,498.2 L338.9,500.4 L336.9,502.6 L334.9,504.9 L332.9,507.2 L330.9,509.5 L328.9,511.8 L326.9,514.1 L324.9,516.4 L322.9,518.7 L320.9,521.1 L318.9,523.4 L316.9,525.6 L314.9,527.9 L312.9,530.1 L310.9,532.3 L308.9,534.5 L306.9,536.6 L304.9,538.7 L302.9,540.8 L300.9,542.9 L298.9,544.9 L296.8,547.0 L294.8,549.0 L292.8,551.1 L290.8,553.2 L288.8,555.3 L286.8,557.5 L284.8,559.7 L282.8,562.0 L280.8,564.3 L278.8,566.7 L276.8,569.1 L274.8,571.7 L272.8,574.3 L270.8,577.1 L268.8,579.9 L266.8,582.8 L264.8,585.9 L262.8,589.0 L260.8,592.3 L258.8,595.6 L256.8,599.0 L254.8,602.5 L252.8,606.1 L250.8,609.7 L248.8,613.5 L246.8,617.2 L244.8,621.1 L242.8,625.0 L240.8,628.9 L238.8,632.9 L236.8,636.9 L234.8,641.0 L232.8,645.1 L230.8,649.2 L228.8,653.4 L208.8,760.0 L140.0,760.0 Z" fill="#bdebf7" fill-opacity="0.5"/>
<path d="M140.0,610.3 L142.0,611.9 L144.0,613.4 L146.0,614.9 L148.0,616.4 L150.0,617.8 L152.0,619.2 L154.0,620.5 L156.0,621.7 L158.0,622.8 L160.0,623.9 L162.0,624.8 L164.0,625.6 L166.0,626.3 L168.0,626.8 L170.0,627.2 L172.0,627.5 L174.0,627.6 L176.0,627.5 L178.0,627.2 L180.0,626.8 L182.0,626.2 L184.0,625.4 L186.0,624.5 L188.0,623.3 L190.0,622.0 L192.0,620.6 L194.0,619.0 L195.9,617.2 L197.9,615.2 L199.9,613.1 L201.9,610.8 L203.9,608.3 L205.9,605.7 L207.9,602.9 L209.9,600.0 L211.9,596.9 L213.9,593.7 L215.9,590.3 L217.9,586.8 L219.9,583.3 L221.9,579.6 L223.9,575.9 L225.9,572.1 L227.9,568.3 L229.9,564.4 L231.9,560.5 L233.9,556.5 L235.9,552.6 L237.9,548.7 L239.9,544.8 L241.9,540.9 L243.9,537.0 L245.9,533.2 L247.9,529.4 L249.9,525.7 L251.9,522.0 L253.9,518.4 L255.9,514.9 L257.9,511.4 L259.9,508.1 L261.9,504.8 L263.9,501.7 L265.9,498.6 L267.9,495.7 L269.9,492.9 L271.9,490.2 L273.9,487.6 L275.9,485.1 L277.9,482.7 L279.9,480.3 L281.9,478.1 L283.9,475.9 L285.9,473.9 L287.9,471.8 L289.9,469.9 L291.9,468.0 L293.9,466.2 L295.9,464.4 L297.9,462.6 L299.9,460.9 L301.9,459.3 L303.9,457.7 L305.9,456.1 L307.8,454.5 L309.8,453.0 L311.8,451.5 L313.8,450.0 L315.8,448.6 L317.8,447.2 L319.8,445.8 L321.8,444.4 L323.8,443.1 L325.8,441.7 L327.8,440.4 L329.8,439.1 L331.8,437.8 L333.8,436.5 L335.8,435.2 L337.8,433.9 L339.8,432.6 L341.8,431.3 L343.8,430.0 L345.8,428.7 L347.8,427.4 L349.8,426.1 L351.8,424.8 L353.8,423.4 L355.8,422.1 L357.8,420.7 L359.8,419.4 L361.8,418.0 L363.8,416.7 L365.8,415.3 L367.8,414.0 L369.8,412.6 L371.8,411.3 L373.8,409.9 L375.8,408.6 L377.8,407.2 L379.8,405.9 L381.8,404.6 L383.8,403.2 L385.8,401.9 L387.8,400.6 L389.8,399.3 L391.8,398.0 L393.8,396.8 L395.8,395.5 L397.8,394.3 L399.8,393.0 L401.8,391.8 L403.8,390.6 L405.8,389.5 L407.8,388.3 L409.8,387.2 L411.8,386.0 L413.8,384.9 L415.8,383.9 L417.7,382.8 L419.7,381.8 L421.7,380.7 L423.7,379.7 L425.7,378.8 L427.7,377.8 L429.7,376.9 L431.7,376.0 L433.7,375.1 L435.7,374.2 L437.7,373.4 L439.7,372.6 L441.7,371.8 L443.7,371.0 L445.7,370.3 L447.7,369.6 L449.7,368.9 L451.7,368.3 L453.7,367.6 L455.7,367.0 L457.7,366.4 L459.7,365.9 L461.7,365.4 L463.7,364.9 L465.7,364.4 L467.7,363.9 L469.7,363.5 L471.7,363.1 L473.7,362.7 L475.7,362.3 L477.7,361.9 L479.7,361.5 L481.7,361.2 L483.7,360.8 L485.7,360.5 L487.7,360.1 L489.7,359.8 L491.7,359.4 L493.7,359.0 L495.7,358.7 L497.7,358.3 L499.7,357.9 L501.7,357.5 L503.7,357.0 L505.7,356.6 L507.7,356.1 L509.7,355.7 L511.7,355.1 L513.7,354.6 L515.7,354.1 L517.7,353.5 L519.7,352.8 L521.7,352.2 L523.7,351.5 L525.7,350.8 L527.7,350.0 L529.6,349.3 L531.6,348.5 L533.6,347.7 L535.6,346.9 L537.6,346.0 L539.6,345.1 L541.6,344.2 L543.6,343.3 L545.6,342.4 L547.6,341.5 L549.6,340.5 L551.6,339.5 L553.6,338.6 L555.6,337.6 L557.6,336.6 L559.6,335.6 L561.6,334.6 L563.6,333.6 L565.6,332.6 L567.6,331.6 L569.6,330.5 L571.6,329.5 L573.6,328.5 L575.6,327.5 L577.6,326.5 L579.6,325.5 L581.6,324.5 L583.6,323.5 L585.6,322.5 L587.6,321.6 L589.6,320.6 L591.6,319.6 L593.6,318.7 L595.6,317.8 L597.6,316.9 L599.6,316.0 L601.6,315.1 L603.6,314.2 L605.6,313.4 L607.6,312.5 L609.6,311.7 L611.6,310.9 L613.6,310.1 L615.6,309.4 L617.6,308.7 L619.6,308.0 L621.6,307.3 L623.6,306.7 L625.6,306.0 L627.6,305.4 L629.6,304.9 L631.6,304.3 L633.6,303.8 L635.6,303.4 L637.6,302.9 L639.6,302.5 L641.5,302.1 L643.5,301.7 L645.5,301.4 L647.5,301.0 L649.5,300.7 L651.5,300.4 L653.5,300.2 L655.5,299.9 L657.5,299.7 L659.5,299.5 L661.5,299.3 L663.5,299.1 L665.5,299.0 L667.5,298.8 L669.5,298.7 L671.5,298.6 L673.5,298.5 L675.5,298.4 L677.5,298.3 L679.5,298.3 L681.5,298.2 L683.5,298.2 L685.5,298.1 L687.5,298.1 L689.5,298.1 L691.5,298.1 L693.5,298.0 L695.5,298.0 L697.5,298.0 L699.5,298.0 L701.5,298.1 L703.5,298.1 L705.5,298.1 L707.5,298.1 L709.5,298.2 L711.5,298.2 L713.5,298.2 L715.5,298.3 L717.5,298.3 L719.5,298.4 L721.5,298.5 L723.5,298.5 L725.5,298.6 L727.5,298.7 L729.5,298.7 L731.5,298.8 L733.5,298.9 L735.5,299.0 L737.5,299.1 L739.5,299.2 L741.5,299.2 L743.5,299.3 L745.5,299.4 L747.5,299.5 L749.5,299.6 L751.4,299.7 L753.4,299.9 L755.4,300.0 L757.4,300.1 L759.4,300.2 L761.4,300.3 L763.4,300.5 L765.4,300.6 L767.4,300.7 L769.4,300.9 L771.4,301.0 L773.4,301.2 L775.4,301.3 L777.4,301.5 L779.4,301.7 L781.4,301.8 L783.4,302.0 L785.4,302.2 L787.4,302.4 L789.4,302.6 L791.4,302.8 L793.4,303.0 L795.4,303.2 L797.4,303.5 L799.4,303.7 L801.4,304.0 L803.4,304.2 L805.4,304.5 L807.4,304.7 L809.4,305.0 L811.4,305.3 L813.4,305.6 L815.4,305.9 L817.4,306.2 L819.4,306.5 L821.4,306.8 L823.4,307.1 L825.4,307.4 L827.4,307.7 L829.4,308.0 L831.4,308.4 L833.4,308.7 L835.4,309.1 L837.4,309.4 L839.4,309.7 L841.4,310.1 L843.4,310.5 L845.4,310.8 L847.4,311.2 L849.4,311.5 L851.4,311.9 L853.4,312.3 L855.4,312.6 L857.4,313.0 L859.4,313.4 L861.4,313.8 L863.3,314.1 L865.3,314.5 L867.3,314.9 L869.3,315.3 L871.3,315.7 L873.3,316.1 L875.3,316.4 L877.3,316.8 L879.3,317.2 L881.3,317.6 L883.3,318.0 L885.3,318.4 L887.3,318.8 L889.3,319.2 L891.3,319.6 L893.3,320.0 L895.3,320.4 L897.3,320.9 L899.3,321.3 L901.3,321.7 L903.3,322.1 L905.3,322.5 L907.3,323.0 L909.3,323.4 L911.3,323.8 L913.3,324.3 L915.3,324.7 L917.3,325.1 " stroke="#0014b0" fill="none" stroke-width="4.6" stroke-linecap="round" stroke-linejoin="round"/>
<path d="M140.0,544.8 L142.0,544.2 L144.0,543.5 L146.0,542.8 L148.0,542.1 L150.0,541.4 L152.0,540.6 L154.0,539.8 L156.0,539.0 L158.0,538.1 L160.0,537.1 L162.0,536.1 L164.0,535.0 L166.0,533.8 L168.0,532.6 L170.0,531.3 L172.0,529.9 L174.0,528.3 L176.0,526.7 L178.0,525.0 L180.0,523.2 L182.0,521.2 L184.0,519.2 L186.0,517.1 L188.0,514.8 L190.0,512.5 L192.0,510.2 L194.0,507.7 L195.9,505.2 L197.9,502.7 L199.9,500.1 L201.9,497.4 L203.9,494.8 L205.9,492.1 L207.9,489.4 L209.9,486.7 L211.9,483.9 L213.9,481.2 L215.9,478.5 L217.9,475.9 L219.9,473.2 L221.9,470.6 L223.9,468.0 L225.9,465.4 L227.9,462.8 L229.9,460.2 L231.9,457.6 L233.9,455.1 L235.9,452.5 L237.9,449.9 L239.9,447.4 L241.9,444.8 L243.9,442.2 L245.9,439.6 L247.9,437.0 L249.9,434.4 L251.9,431.7 L253.9,429.0 L255.9,426.3 L257.9,423.6 L259.9,420.8 L261.9,418.0 L263.9,415.2 L265.9,412.3 L267.9,409.4 L269.9,406.5 L271.9,403.6 L273.9,400.6 L275.9,397.6 L277.9,394.6 L279.9,391.5 L281.9,388.4 L283.9,385.3 L285.9,382.2 L287.9,379.0 L289.9,375.9 L291.9,372.7 L293.9,369.4 L295.9,366.2 L297.9,362.9 L299.9,359.6 L301.9,356.4 L303.9,353.1 L305.9,349.8 L307.8,346.5 L309.8,343.2 L311.8,340.0 L313.8,336.7 L315.8,333.5 L317.8,330.3 L319.8,327.2 L321.8,324.1 L323.8,321.0 L325.8,318.0 L327.8,315.0 L329.8,312.1 L331.8,309.2 L333.8,306.4 L335.8,303.6 L337.8,301.0 L339.8,298.4 L341.8,295.9 L343.8,293.5 L345.8,291.1 L347.8,288.9 L349.8,286.7 L351.8,284.7 L353.8,282.7 L355.8,280.9 L357.8,279.1 L359.8,277.5 L361.8,275.9 L363.8,274.4 L365.8,273.0 L367.8,271.6 L369.8,270.4 L371.8,269.2 L373.8,268.1 L375.8,267.1 L377.8,266.1 L379.8,265.3 L381.8,264.5 L383.8,263.7 L385.8,263.0 L387.8,262.4 L389.8,261.9 L391.8,261.4 L393.8,261.0 L395.8,260.6 L397.8,260.3 L399.8,260.0 L401.8,259.8 L403.8,259.7 L405.8,259.6 L407.8,259.5 L409.8,259.5 L411.8,259.5 L413.8,259.5 L415.8,259.6 L417.7,259.7 L419.7,259.8 L421.7,259.9 L423.7,260.0 L425.7,260.2 L427.7,260.3 L429.7,260.4 L431.7,260.5 L433.7,260.6 L435.7,260.6 L437.7,260.7 L439.7,260.7 L441.7,260.6 L443.7,260.5 L445.7,260.4 L447.7,260.2 L449.7,259.9 L451.7,259.6 L453.7,259.2 L455.7,258.8 L457.7,258.2 L459.7,257.6 L461.7,256.9 L463.7,256.1 L465.7,255.3 L467.7,254.3 L469.7,253.3 L471.7,252.2 L473.7,251.0 L475.7,249.8 L477.7,248.6 L479.7,247.2 L481.7,245.9 L483.7,244.4 L485.7,243.0 L487.7,241.5 L489.7,239.9 L491.7,238.3 L493.7,236.7 L495.7,235.1 L497.7,233.5 L499.7,231.8 L501.7,230.1 L503.7,228.4 L505.7,226.7 L507.7,225.0 L509.7,223.3 L511.7,221.6 L513.7,220.0 L515.7,218.3 L517.7,216.6 L519.7,215.0 L521.7,213.4 L523.7,211.8 L525.7,210.2 L527.7,208.6 L529.6,207.0 L531.6,205.5 L533.6,204.0 L535.6,202.4 L537.6,200.9 L539.6,199.4 L541.6,197.9 L543.6,196.4 L545.6,194.9 L547.6,193.4 L549.6,192.0 L551.6,190.5 L553.6,189.0 L555.6,187.5 L557.6,186.1 L559.6,184.6 L561.6,183.1 L563.6,181.6 L565.6,180.2 L567.6,178.7 L569.6,177.2 L571.6,175.7 L573.6,174.2 L575.6,172.7 L577.6,171.1 L579.6,169.6 L581.6,168.1 L583.6,166.5 L585.6,164.9 L587.6,163.4 L589.6,161.8 L591.6,160.2 L593.6,158.7 L595.6,157.1 L597.6,155.5 L599.6,153.9 L601.6,152.3 L603.6,150.7 L605.6,149.1 L607.6,147.5 L609.6,146.0 L611.6,144.4 L613.6,142.8 L615.6,141.2 L617.6,139.6 L619.6,138.0 L621.6,136.5 L623.6,134.9 L625.6,133.4 L627.6,131.8 L629.6,130.3 L631.6,128.7 L633.6,127.2 L635.6,125.7 L637.6,124.2 L639.6,122.7 L641.5,121.2 L643.5,119.7 L645.5,118.3 L647.5,116.8 L649.5,115.4 L651.5,113.9 L653.5,112.5 L655.5,111.1 L657.5,109.7 L659.5,108.3 L661.5,106.9 L663.5,105.5 L665.5,104.2 L667.5,102.8 L669.5,101.5 L671.5,100.2 L673.5,98.9 L675.5,97.6 L677.5,96.3 L679.5,95.0 L681.5,93.8 L683.5,92.5 L685.5,91.3 L687.5,90.1 L689.5,88.9 L691.5,87.7 L693.5,86.6 L695.5,85.4 L697.5,84.3 L699.5,83.2 L701.5,82.1 L703.5,81.1 L705.5,80.0 L707.5,79.0 L709.5,78.1 L711.5,77.1 L713.5,76.2 L715.5,75.3 L717.5,74.4 L719.5,73.6 L721.5,72.8 L723.5,72.0 L725.5,71.3 L727.5,70.6 L729.5,69.9 L731.5,69.3 L733.5,68.7 L735.5,68.1 L737.5,67.6 L739.5,67.1 L741.5,66.6 L743.5,66.1 L745.5,65.6 L747.5,65.2 L749.5,64.7 L751.4,64.3 L753.4,63.9 L755.4,63.5 L757.4,63.1 L759.4,62.7 L761.4,62.2 L763.4,61.8 L765.4,61.4 L767.4,61.0 L769.4,60.6 L771.4,60.1 L773.4,59.7 L775.4,59.2 L777.4,58.7 L779.4,58.3 L781.4,57.8 L783.4,57.3 L785.4,56.8 L787.4,56.2 L789.4,55.7 L791.4,55.2 L793.4,54.6 L795.4,54.0 L797.4,53.5 L799.4,52.9 L801.4,52.3 L803.4,51.7 L805.4,51.1 L807.4,50.5 L809.4,49.8 L811.4,49.2 L813.4,48.5 L815.4,47.9 L817.4,47.2 L819.4,46.5 L821.4,45.8 L823.4,45.1 L825.4,44.4 L827.4,43.7 L829.4,42.9 L831.4,42.2 L833.4,41.4 L835.4,40.7 L837.4,39.9 L839.4,39.1 L841.4,38.3 L843.4,37.5 L845.4,36.7 L847.4,35.9 L849.4,35.1 L851.4,34.3 L853.4,33.4 L855.4,32.6 L857.4,31.7 L859.4,30.8 L861.4,30.0 L863.3,29.1 L865.3,28.2 L867.3,27.3 L869.3,26.4 L871.3,25.5 L873.3,24.6 L875.3,23.7 L877.3,22.8 L879.3,21.9 L881.3,20.9 L883.3,20.0 L885.3,19.1 L887.3,18.2 L889.3,17.2 L891.3,16.3 L893.3,15.4 L895.3,14.4 L897.3,13.5 L899.3,12.6 L901.3,11.7 L903.3,10.7 L905.3,9.8 L907.3,8.9 L909.3,8.0 L911.3,7.1 L913.3,6.2 L915.3,5.3 L917.3,4.4 L917.3,149.9 L915.3,151.0 L913.3,152.1 L911.3,153.1 L909.3,154.1 L907.3,155.1 L905.3,156.1 L903.3,157.1 L901.3,158.1 L899.3,159.1 L897.3,160.0 L895.3,160.9 L893.3,161.9 L891.3,162.8 L889.3,163.7 L887.3,164.6 L885.3,165.5 L883.3,166.3 L881.3,167.2 L879.3,168.1 L877.3,169.0 L875.3,169.8 L873.3,170.7 L871.3,171.5 L869.3,172.4 L867.3,173.2 L865.3,174.0 L863.3,174.9 L861.3,175.7 L859.3,176.5 L857.3,177.3 L855.3,178.1 L853.3,178.9 L851.3,179.7 L849.3,180.5 L847.3,181.2 L845.3,182.0 L843.3,182.8 L841.3,183.5 L839.3,184.2 L837.3,185.0 L835.3,185.7 L833.3,186.4 L831.3,187.1 L829.3,187.8 L827.3,188.5 L825.3,189.1 L823.3,189.8 L821.3,190.5 L819.3,191.1 L817.3,191.8 L815.3,192.4 L813.3,193.0 L811.3,193.6 L809.3,194.2 L807.3,194.8 L805.3,195.4 L803.3,196.0 L801.3,196.6 L799.3,197.2 L797.3,197.8 L795.3,198.3 L793.2,198.9 L791.2,199.4 L789.2,200.0 L787.2,200.5 L785.2,201.1 L783.2,201.6 L781.2,202.2 L779.2,202.7 L777.2,203.2 L775.2,203.7 L773.2,204.3 L771.2,204.8 L769.2,205.3 L767.2,205.8 L765.2,206.3 L763.2,206.8 L761.2,207.3 L759.2,207.9 L757.2,208.4 L755.2,208.9 L753.2,209.4 L751.2,209.9 L749.2,210.4 L747.2,210.9 L745.2,211.4 L743.2,212.0 L741.2,212.5 L739.2,213.0 L737.2,213.5 L735.2,214.1 L733.2,214.6 L731.2,215.1 L729.2,215.7 L727.2,216.2 L725.2,216.8 L723.2,217.3 L721.2,217.9 L719.2,218.5 L717.2,219.1 L715.2,219.7 L713.2,220.3 L711.2,220.9 L709.2,221.6 L707.2,222.3 L705.2,223.0 L703.2,223.8 L701.2,224.5 L699.2,225.3 L697.2,226.2 L695.2,227.1 L693.2,228.0 L691.2,228.9 L689.2,229.9 L687.2,231.0 L685.2,232.1 L683.2,233.2 L681.2,234.4 L679.2,235.7 L677.2,237.0 L675.2,238.3 L673.2,239.6 L671.2,241.0 L669.2,242.5 L667.2,243.9 L665.2,245.4 L663.2,247.0 L661.2,248.5 L659.2,250.1 L657.2,251.7 L655.2,253.4 L653.2,255.1 L651.2,256.7 L649.2,258.4 L647.2,260.2 L645.2,261.9 L643.2,263.6 L641.2,265.4 L639.2,267.2 L637.2,268.9 L635.2,270.7 L633.2,272.5 L631.2,274.3 L629.2,276.1 L627.2,277.9 L625.2,279.7 L623.2,281.5 L621.2,283.3 L619.2,285.1 L617.2,286.8 L615.2,288.6 L613.2,290.4 L611.2,292.2 L609.2,293.9 L607.2,295.7 L605.2,297.4 L603.2,299.2 L601.2,300.9 L599.2,302.6 L597.2,304.4 L595.2,306.1 L593.2,307.8 L591.2,309.5 L589.2,311.1 L587.2,312.8 L585.2,314.5 L583.2,316.1 L581.2,317.7 L579.2,319.3 L577.2,320.9 L575.2,322.5 L573.2,324.1 L571.2,325.6 L569.2,327.2 L567.2,328.7 L565.2,330.2 L563.2,331.7 L561.2,333.1 L559.2,334.6 L557.2,336.0 L555.2,337.4 L553.2,338.9 L551.2,340.3 L549.2,341.6 L547.2,343.0 L545.1,344.4 L543.1,345.8 L541.1,347.1 L539.1,348.5 L537.1,349.9 L535.1,351.2 L533.1,352.6 L531.1,354.0 L529.1,355.3 L527.1,356.7 L525.1,358.1 L523.1,359.5 L521.1,360.9 L519.1,362.3 L517.1,363.7 L515.1,365.1 L513.1,366.5 L511.1,368.0 L509.1,369.4 L507.1,370.8 L505.1,372.3 L503.1,373.7 L501.1,375.1 L499.1,376.4 L497.1,377.8 L495.1,379.1 L493.1,380.4 L491.1,381.7 L489.1,382.9 L487.1,384.1 L485.1,385.2 L483.1,386.3 L481.1,387.3 L479.1,388.2 L477.1,389.1 L475.1,390.0 L473.1,390.7 L471.1,391.5 L469.1,392.1 L467.1,392.7 L465.1,393.3 L463.1,393.8 L461.1,394.2 L459.1,394.6 L457.1,395.0 L455.1,395.3 L453.1,395.6 L451.1,395.8 L449.1,396.0 L447.1,396.2 L445.1,396.3 L443.1,396.4 L441.1,396.5 L439.1,396.5 L437.1,396.6 L435.1,396.6 L433.1,396.6 L431.1,396.5 L429.1,396.5 L427.1,396.4 L425.1,396.4 L423.1,396.3 L421.1,396.2 L419.1,396.2 L417.1,396.1 L415.1,396.1 L413.1,396.1 L411.1,396.2 L409.1,396.3 L407.1,396.4 L405.1,396.6 L403.1,396.9 L401.1,397.2 L399.1,397.6 L397.1,398.1 L395.1,398.7 L393.1,399.4 L391.1,400.2 L389.1,401.1 L387.1,402.1 L385.1,403.2 L383.1,404.5 L381.1,405.9 L379.1,407.5 L377.1,409.2 L375.1,411.0 L373.1,413.1 L371.1,415.2 L369.1,417.5 L367.1,419.9 L365.1,422.5 L363.1,425.1 L361.1,427.9 L359.1,430.8 L357.1,433.7 L355.1,436.7 L353.1,439.8 L351.1,443.0 L349.1,446.2 L347.1,449.5 L345.1,452.8 L343.1,456.1 L341.1,459.5 L339.1,462.9 L337.1,466.3 L335.1,469.7 L333.1,473.1 L331.1,476.4 L329.1,479.8 L327.1,483.1 L325.1,486.4 L323.1,489.7 L321.1,492.9 L319.1,496.1 L317.1,499.2 L315.1,502.4 L313.1,505.4 L311.1,508.5 L309.1,511.5 L307.1,514.4 L305.1,517.3 L303.1,520.2 L301.1,523.0 L299.1,525.7 L297.0,528.5 L295.0,531.1 L293.0,533.7 L291.0,536.3 L289.0,538.8 L287.0,541.3 L285.0,543.7 L283.0,546.0 L281.0,548.4 L279.0,550.7 L277.0,552.9 L275.0,555.2 L273.0,557.4 L271.0,559.6 L269.0,561.9 L267.0,564.1 L265.0,566.3 L263.0,568.5 L261.0,570.8 L259.0,573.0 L257.0,575.3 L255.0,577.6 L253.0,580.0 L251.0,582.3 L249.0,584.8 L247.0,587.2 L245.0,589.8 L243.0,592.3 L241.0,595.0 L239.0,597.6 L237.0,600.2 L235.0,602.9 L233.0,605.5 L231.0,608.1 L229.0,610.7 L227.0,613.2 L225.0,615.7 L223.0,618.1 L221.0,620.4 L219.0,622.6 L217.0,624.7 L215.0,626.7 L213.0,628.5 L211.0,630.2 L209.0,631.7 L207.0,633.1 L205.0,634.4 L203.0,635.5 L201.0,636.6 L199.0,637.5 L197.0,638.5 L195.0,639.4 L193.0,640.3 L191.0,641.2 L189.0,642.1 L187.0,643.1 L185.0,644.2 L183.0,645.4 L181.0,646.7 L179.0,648.1 L177.0,649.7 L175.0,651.4 L173.0,653.4 L153.0,760.0 L140.0,760.0 Z" fill="#fcd5d5" fill-opacity="0.59"/>
<g clip-path="url(#mb)">
<path d="M140.0,610.0 L142.0,610.1 L144.0,610.2 L146.0,610.3 L148.0,610.3 L150.0,610.4 L152.0,610.4 L154.0,610.4 L156.0,610.4 L158.0,610.4 L160.0,610.4 L162.0,610.4 L164.0,610.4 L166.0,610.3 L168.0,610.3 L170.0,610.2 L172.0,610.1 L174.0,610.1 L176.0,610.0 L178.0,609.9 L180.0,609.8 L182.0,609.7 L184.0,609.5 L186.0,609.4 L188.0,609.3 L190.0,609.1 L192.0,609.0 L194.0,608.9 L195.9,608.7 L197.9,608.5 L199.9,608.4 L201.9,608.2 L203.9,608.1 L205.9,607.9 L207.9,607.7 L209.9,607.5 L211.9,607.4 L213.9,607.2 L215.9,607.0 L217.9,606.8 L219.9,606.7 L221.9,606.5 L223.9,606.3 L225.9,606.1 L227.9,606.0 L229.9,605.8 L231.9,605.6 L233.9,605.5 L235.9,605.3 L237.9,605.1 L239.9,605.0 L241.9,604.8 L243.9,604.7 L245.9,604.5 L247.9,604.4 L249.9,604.3 L251.9,604.1 L253.9,604.0 L255.9,603.9 L257.9,603.8 L259.9,603.7 L261.9,603.6 L263.9,603.5 L265.9,603.4 L267.9,603.4 L269.9,603.3 L271.9,603.2 L273.9,603.2 L275.9,603.2 L277.9,603.1 L279.9,603.1 L281.9,603.1 L283.9,603.1 L285.9,603.1 L287.9,603.1 L289.9,603.1 L291.9,603.2 L293.9,603.2 L295.9,603.2 L297.9,603.3 L299.9,603.4 L301.9,603.4 L303.9,603.5 L305.9,603.6 L307.8,603.7 L309.8,603.9 L311.8,604.0 L313.8,604.1 L315.8,604.3 L317.8,604.4 L319.8,604.6 L321.8,604.8 L323.8,605.0 L325.8,605.2 L327.8,605.4 L329.8,605.6 L331.8,605.8 L333.8,606.1 L335.8,606.3 L337.8,606.5 L339.8,606.8 L341.8,607.0 L343.8,607.3 L345.8,607.5 L347.8,607.8 L349.8,608.0 L351.8,608.2 L353.8,608.5 L355.8,608.7 L357.8,608.9 L359.8,609.2 L361.8,609.4 L363.8,609.6 L365.8,609.8 L367.8,609.9 L369.8,610.1 L371.8,610.3 L373.8,610.4 L375.8,610.6 L377.8,610.7 L379.8,610.8 L381.8,610.9 L383.8,610.9 L385.8,611.0 L387.8,611.0 L389.8,611.0 L391.8,611.0 L393.8,611.0 L395.8,611.0 L397.8,610.9 L399.8,610.9 L401.8,610.8 L403.8,610.7 L405.8,610.6 L407.8,610.5 L409.8,610.4 L411.8,610.2 L413.8,610.1 L415.8,609.9 L417.7,609.8 L419.7,609.6 L421.7,609.5 L423.7,609.3 L425.7,609.1 L427.7,608.9 L429.7,608.7 L431.7,608.5 L433.7,608.3 L435.7,608.1 L437.7,608.0 L439.7,607.8 L441.7,607.6 L443.7,607.4 L445.7,607.2 L447.7,607.0 L449.7,606.8 L451.7,606.6 L453.7,606.4 L455.7,606.3 L457.7,606.1 L459.7,605.9 L461.7,605.7 L463.7,605.6 L465.7,605.4 L467.7,605.2 L469.7,605.1 L471.7,604.9 L473.7,604.8 L475.7,604.6 L477.7,604.5 L479.7,604.3 L481.7,604.2 L483.7,604.0 L485.7,603.9 L487.7,603.8 L489.7,603.6 L491.7,603.5 L493.7,603.4 L495.7,603.3 L497.7,603.1 L499.7,603.0 L501.7,602.9 L503.7,602.8 L505.7,602.7 L507.7,602.6 L509.7,602.5 L511.7,602.4 L513.7,602.3 L515.7,602.2 L517.7,602.1 L519.7,602.0 L521.7,601.9 L523.7,601.9 L525.7,601.8 L527.7,601.7 L529.6,601.7 L531.6,601.6 L533.6,601.5 L535.6,601.5 L537.6,601.4 L539.6,601.4 L541.6,601.3 L543.6,601.3 L545.6,601.2 L547.6,601.2 L549.6,601.1 L551.6,601.1 L553.6,601.1 L555.6,601.1 L557.6,601.0 L559.6,601.0 L561.6,601.0 L563.6,601.0 L565.6,601.0 L567.6,601.0 L569.6,601.0 L571.6,601.0 L573.6,601.0 L575.6,601.0 L577.6,601.0 L579.6,601.1 L581.6,601.1 L583.6,601.1 L585.6,601.1 L587.6,601.2 L589.6,601.2 L591.6,601.2 L593.6,601.2 L595.6,601.3 L597.6,601.3 L599.6,601.4 L601.6,601.4 L603.6,601.5 L605.6,601.5 L607.6,601.6 L609.6,601.6 L611.6,601.7 L613.6,601.7 L615.6,601.8 L617.6,601.8 L619.6,601.9 L621.6,601.9 L623.6,602.0 L625.6,602.1 L627.6,602.1 L629.6,602.2 L631.6,602.2 L633.6,602.3 L635.6,602.4 L637.6,602.4 L639.6,602.5 L641.5,602.5 L643.5,602.6 L645.5,602.7 L647.5,602.7 L649.5,602.8 L651.5,602.9 L653.5,602.9 L655.5,603.0 L657.5,603.0 L659.5,603.1 L661.5,603.1 L663.5,603.2 L665.5,603.3 L667.5,603.3 L669.5,603.4 L671.5,603.4 L673.5,603.5 L675.5,603.5 L677.5,603.6 L679.5,603.6 L681.5,603.7 L683.5,603.7 L685.5,603.7 L687.5,603.8 L689.5,603.8 L691.5,603.8 L693.5,603.9 L695.5,603.9 L697.5,603.9 L699.5,604.0 L701.5,604.0 L703.5,604.0 L705.5,604.0 L707.5,604.1 L709.5,604.1 L711.5,604.1 L713.5,604.1 L715.5,604.1 L717.5,604.1 L719.5,604.1 L721.5,604.2 L723.5,604.2 L725.5,604.2 L727.5,604.2 L729.5,604.2 L731.5,604.2 L733.5,604.2 L735.5,604.2 L737.5,604.2 L739.5,604.2 L741.5,604.2 L743.5,604.2 L745.5,604.1 L747.5,604.1 L749.5,604.1 L751.4,604.1 L753.4,604.1 L755.4,604.1 L757.4,604.1 L759.4,604.0 L761.4,604.0 L763.4,604.0 L765.4,604.0 L767.4,603.9 L769.4,603.9 L771.4,603.9 L773.4,603.9 L775.4,603.8 L777.4,603.8 L779.4,603.8 L781.4,603.7 L783.4,603.7 L785.4,603.7 L787.4,603.6 L789.4,603.6 L791.4,603.5 L793.4,603.5 L795.4,603.5 L797.4,603.4 L799.4,603.4 L801.4,603.3 L803.4,603.3 L805.4,603.2 L807.4,603.2 L809.4,603.1 L811.4,603.1 L813.4,603.0 L815.4,603.0 L817.4,602.9 L819.4,602.9 L821.4,602.8 L823.4,602.8 L825.4,602.7 L827.4,602.6 L829.4,602.6 L831.4,602.5 L833.4,602.5 L835.4,602.4 L837.4,602.3 L839.4,602.3 L841.4,602.2 L843.4,602.1 L845.4,602.1 L847.4,602.0 L849.4,601.9 L851.4,601.9 L853.4,601.8 L855.4,601.7 L857.4,601.6 L859.4,601.6 L861.4,601.5 L863.3,601.4 L865.3,601.4 L867.3,601.3 L869.3,601.2 L871.3,601.2 L873.3,601.1 L875.3,601.1 L877.3,601.0 L879.3,601.0 L881.3,600.9 L883.3,600.9 L885.3,600.9 L887.3,600.9 L889.3,600.8 L891.3,600.8 L893.3,600.9 L895.3,600.9 L897.3,600.9 L899.3,600.9 L901.3,601.0 L903.3,601.0 L905.3,601.1 L907.3,601.2 L909.3,601.3 L911.3,601.4 L913.3,601.5 L915.3,601.6 L917.3,601.8 " stroke="#ae9ca2" fill="none" stroke-width="4.6" stroke-linecap="round" stroke-linejoin="round"/>
<path d="M140.0,610.3 L142.0,611.9 L144.0,613.4 L146.0,614.9 L148.0,616.4 L150.0,617.8 L152.0,619.2 L154.0,620.5 L156.0,621.7 L158.0,622.8 L160.0,623.9 L162.0,624.8 L164.0,625.6 L166.0,626.3 L168.0,626.8 L170.0,627.2 L172.0,627.5 L174.0,627.6 L176.0,627.5 L178.0,627.2 L180.0,626.8 L182.0,626.2 L184.0,625.4 L186.0,624.5 L188.0,623.3 L190.0,622.0 L192.0,620.6 L194.0,619.0 L195.9,617.2 L197.9,615.2 L199.9,613.1 L201.9,610.8 L203.9,608.3 L205.9,605.7 L207.9,602.9 L209.9,600.0 L211.9,596.9 L213.9,593.7 L215.9,590.3 L217.9,586.8 L219.9,583.3 L221.9,579.6 L223.9,575.9 L225.9,572.1 L227.9,568.3 L229.9,564.4 L231.9,560.5 L233.9,556.5 L235.9,552.6 L237.9,548.7 L239.9,544.8 L241.9,540.9 L243.9,537.0 L245.9,533.2 L247.9,529.4 L249.9,525.7 L251.9,522.0 L253.9,518.4 L255.9,514.9 L257.9,511.4 L259.9,508.1 L261.9,504.8 L263.9,501.7 L265.9,498.6 L267.9,495.7 L269.9,492.9 L271.9,490.2 L273.9,487.6 L275.9,485.1 L277.9,482.7 L279.9,480.3 L281.9,478.1 L283.9,475.9 L285.9,473.9 L287.9,471.8 L289.9,469.9 L291.9,468.0 L293.9,466.2 L295.9,464.4 L297.9,462.6 L299.9,460.9 L301.9,459.3 L303.9,457.7 L305.9,456.1 L307.8,454.5 L309.8,453.0 L311.8,451.5 L313.8,450.0 L315.8,448.6 L317.8,447.2 L319.8,445.8 L321.8,444.4 L323.8,443.1 L325.8,441.7 L327.8,440.4 L329.8,439.1 L331.8,437.8 L333.8,436.5 L335.8,435.2 L337.8,433.9 L339.8,432.6 L341.8,431.3 L343.8,430.0 L345.8,428.7 L347.8,427.4 L349.8,426.1 L351.8,424.8 L353.8,423.4 L355.8,422.1 L357.8,420.7 L359.8,419.4 L361.8,418.0 L363.8,416.7 L365.8,415.3 L367.8,414.0 L369.8,412.6 L371.8,411.3 L373.8,409.9 L375.8,408.6 L377.8,407.2 L379.8,405.9 L381.8,404.6 L383.8,403.2 L385.8,401.9 L387.8,400.6 L389.8,399.3 L391.8,398.0 L393.8,396.8 L395.8,395.5 L397.8,394.3 L399.8,393.0 L401.8,391.8 L403.8,390.6 L405.8,389.5 L407.8,388.3 L409.8,387.2 L411.8,386.0 L413.8,384.9 L415.8,383.9 L417.7,382.8 L419.7,381.8 L421.7,380.7 L423.7,379.7 L425.7,378.8 L427.7,377.8 L429.7,376.9 L431.7,376.0 L433.7,375.1 L435.7,374.2 L437.7,373.4 L439.7,372.6 L441.7,371.8 L443.7,371.0 L445.7,370.3 L447.7,369.6 L449.7,368.9 L451.7,368.3 L453.7,367.6 L455.7,367.0 L457.7,366.4 L459.7,365.9 L461.7,365.4 L463.7,364.9 L465.7,364.4 L467.7,363.9 L469.7,363.5 L471.7,363.1 L473.7,362.7 L475.7,362.3 L477.7,361.9 L479.7,361.5 L481.7,361.2 L483.7,360.8 L485.7,360.5 L487.7,360.1 L489.7,359.8 L491.7,359.4 L493.7,359.0 L495.7,358.7 L497.7,358.3 L499.7,357.9 L501.7,357.5 L503.7,357.0 L505.7,356.6 L507.7,356.1 L509.7,355.7 L511.7,355.1 L513.7,354.6 L515.7,354.1 L517.7,353.5 L519.7,352.8 L521.7,352.2 L523.7,351.5 L525.7,350.8 L527.7,350.0 L529.6,349.3 L531.6,348.5 L533.6,347.7 L535.6,346.9 L537.6,346.0 L539.6,345.1 L541.6,344.2 L543.6,343.3 L545.6,342.4 L547.6,341.5 L549.6,340.5 L551.6,339.5 L553.6,338.6 L555.6,337.6 L557.6,336.6 L559.6,335.6 L561.6,334.6 L563.6,333.6 L565.6,332.6 L567.6,331.6 L569.6,330.5 L571.6,329.5 L573.6,328.5 L575.6,327.5 L577.6,326.5 L579.6,325.5 L581.6,324.5 L583.6,323.5 L585.6,322.5 L587.6,321.6 L589.6,320.6 L591.6,319.6 L593.6,318.7 L595.6,317.8 L597.6,316.9 L599.6,316.0 L601.6,315.1 L603.6,314.2 L605.6,313.4 L607.6,312.5 L609.6,311.7 L611.6,310.9 L613.6,310.1 L615.6,309.4 L617.6,308.7 L619.6,308.0 L621.6,307.3 L623.6,306.7 L625.6,306.0 L627.6,305.4 L629.6,304.9 L631.6,304.3 L633.6,303.8 L635.6,303.4 L637.6,302.9 L639.6,302.5 L641.5,302.1 L643.5,301.7 L645.5,301.4 L647.5,301.0 L649.5,300.7 L651.5,300.4 L653.5,300.2 L655.5,299.9 L657.5,299.7 L659.5,299.5 L661.5,299.3 L663.5,299.1 L665.5,299.0 L667.5,298.8 L669.5,298.7 L671.5,298.6 L673.5,298.5 L675.5,298.4 L677.5,298.3 L679.5,298.3 L681.5,298.2 L683.5,298.2 L685.5,298.1 L687.5,298.1 L689.5,298.1 L691.5,298.1 L693.5,298.0 L695.5,298.0 L697.5,298.0 L699.5,298.0 L701.5,298.1 L703.5,298.1 L705.5,298.1 L707.5,298.1 L709.5,298.2 L711.5,298.2 L713.5,298.2 L715.5,298.3 L717.5,298.3 L719.5,298.4 L721.5,298.5 L723.5,298.5 L725.5,298.6 L727.5,298.7 L729.5,298.7 L731.5,298.8 L733.5,298.9 L735.5,299.0 L737.5,299.1 L739.5,299.2 L741.5,299.2 L743.5,299.3 L745.5,299.4 L747.5,299.5 L749.5,299.6 L751.4,299.7 L753.4,299.9 L755.4,300.0 L757.4,300.1 L759.4,300.2 L761.4,300.3 L763.4,300.5 L765.4,300.6 L767.4,300.7 L769.4,300.9 L771.4,301.0 L773.4,301.2 L775.4,301.3 L777.4,301.5 L779.4,301.7 L781.4,301.8 L783.4,302.0 L785.4,302.2 L787.4,302.4 L789.4,302.6 L791.4,302.8 L793.4,303.0 L795.4,303.2 L797.4,303.5 L799.4,303.7 L801.4,304.0 L803.4,304.2 L805.4,304.5 L807.4,304.7 L809.4,305.0 L811.4,305.3 L813.4,305.6 L815.4,305.9 L817.4,306.2 L819.4,306.5 L821.4,306.8 L823.4,307.1 L825.4,307.4 L827.4,307.7 L829.4,308.0 L831.4,308.4 L833.4,308.7 L835.4,309.1 L837.4,309.4 L839.4,309.7 L841.4,310.1 L843.4,310.5 L845.4,310.8 L847.4,311.2 L849.4,311.5 L851.4,311.9 L853.4,312.3 L855.4,312.6 L857.4,313.0 L859.4,313.4 L861.4,313.8 L863.3,314.1 L865.3,314.5 L867.3,314.9 L869.3,315.3 L871.3,315.7 L873.3,316.1 L875.3,316.4 L877.3,316.8 L879.3,317.2 L881.3,317.6 L883.3,318.0 L885.3,318.4 L887.3,318.8 L889.3,319.2 L891.3,319.6 L893.3,320.0 L895.3,320.4 L897.3,320.9 L899.3,321.3 L901.3,321.7 L903.3,322.1 L905.3,322.5 L907.3,323.0 L909.3,323.4 L911.3,323.8 L913.3,324.3 L915.3,324.7 L917.3,325.1 " stroke="#7c6ece" fill="none" stroke-width="4.6" stroke-linecap="round" stroke-linejoin="round"/>
</g>
<path d="M140.0,608.9 L142.0,608.2 L144.0,607.5 L146.0,606.6 L148.0,605.7 L150.0,604.7 L152.0,603.7 L154.0,602.5 L156.0,601.4 L158.0,600.1 L160.0,598.8 L162.0,597.5 L164.0,596.1 L166.0,594.7 L168.0,593.2 L170.0,591.8 L172.0,590.2 L174.0,588.7 L176.0,587.1 L178.0,585.5 L180.0,583.9 L182.0,582.2 L184.0,580.5 L186.0,578.8 L188.0,577.1 L190.0,575.4 L192.0,573.6 L194.0,571.8 L195.9,570.0 L197.9,568.1 L199.9,566.3 L201.9,564.3 L203.9,562.4 L205.9,560.4 L207.9,558.5 L209.9,556.4 L211.9,554.4 L213.9,552.3 L215.9,550.1 L217.9,548.0 L219.9,545.8 L221.9,543.6 L223.9,541.3 L225.9,539.0 L227.9,536.7 L229.9,534.4 L231.9,532.0 L233.9,529.6 L235.9,527.2 L237.9,524.7 L239.9,522.3 L241.9,519.7 L243.9,517.2 L245.9,514.6 L247.9,512.0 L249.9,509.4 L251.9,506.8 L253.9,504.1 L255.9,501.4 L257.9,498.7 L259.9,496.0 L261.9,493.3 L263.9,490.5 L265.9,487.8 L267.9,485.0 L269.9,482.2 L271.9,479.4 L273.9,476.7 L275.9,473.9 L277.9,471.1 L279.9,468.3 L281.9,465.6 L283.9,462.8 L285.9,460.1 L287.9,457.4 L289.9,454.6 L291.9,451.9 L293.9,449.2 L295.9,446.5 L297.9,443.8 L299.9,441.0 L301.9,438.3 L303.9,435.6 L305.9,432.8 L307.8,430.0 L309.8,427.2 L311.8,424.4 L313.8,421.5 L315.8,418.6 L317.8,415.7 L319.8,412.7 L321.8,409.7 L323.8,406.7 L325.8,403.6 L327.8,400.4 L329.8,397.2 L331.8,394.0 L333.8,390.8 L335.8,387.5 L337.8,384.3 L339.8,381.0 L341.8,377.8 L343.8,374.6 L345.8,371.4 L347.8,368.4 L349.8,365.3 L351.8,362.4 L353.8,359.6 L355.8,356.9 L357.8,354.3 L359.8,351.8 L361.8,349.5 L363.8,347.3 L365.8,345.2 L367.8,343.3 L369.8,341.5 L371.8,339.8 L373.8,338.2 L375.8,336.8 L377.8,335.4 L379.8,334.2 L381.8,333.2 L383.8,332.2 L385.8,331.4 L387.8,330.6 L389.8,330.0 L391.8,329.5 L393.8,329.1 L395.8,328.7 L397.8,328.5 L399.8,328.3 L401.8,328.2 L403.8,328.1 L405.8,328.1 L407.8,328.2 L409.8,328.3 L411.8,328.4 L413.8,328.5 L415.8,328.6 L417.7,328.8 L419.7,328.9 L421.7,329.1 L423.7,329.2 L425.7,329.3 L427.7,329.4 L429.7,329.4 L431.7,329.5 L433.7,329.4 L435.7,329.4 L437.7,329.3 L439.7,329.2 L441.7,329.0 L443.7,328.8 L445.7,328.6 L447.7,328.3 L449.7,328.0 L451.7,327.6 L453.7,327.2 L455.7,326.8 L457.7,326.3 L459.7,325.7 L461.7,325.1 L463.7,324.5 L465.7,323.8 L467.7,323.1 L469.7,322.3 L471.7,321.4 L473.7,320.5 L475.7,319.5 L477.7,318.5 L479.7,317.4 L481.7,316.3 L483.7,315.1 L485.7,313.9 L487.7,312.7 L489.7,311.4 L491.7,310.1 L493.7,308.8 L495.7,307.4 L497.7,306.0 L499.7,304.6 L501.7,303.1 L503.7,301.7 L505.7,300.2 L507.7,298.7 L509.7,297.2 L511.7,295.7 L513.7,294.2 L515.7,292.7 L517.7,291.2 L519.7,289.7 L521.7,288.2 L523.7,286.8 L525.7,285.3 L527.7,283.8 L529.6,282.3 L531.6,280.8 L533.6,279.4 L535.6,277.9 L537.6,276.4 L539.6,274.9 L541.6,273.4 L543.6,272.0 L545.6,270.5 L547.6,269.0 L549.6,267.5 L551.6,266.0 L553.6,264.5 L555.6,263.0 L557.6,261.5 L559.6,260.0 L561.6,258.4 L563.6,256.9 L565.6,255.4 L567.6,253.8 L569.6,252.3 L571.6,250.7 L573.6,249.2 L575.6,247.6 L577.6,246.1 L579.6,244.5 L581.6,242.9 L583.6,241.4 L585.6,239.8 L587.6,238.2 L589.6,236.7 L591.6,235.1 L593.6,233.5 L595.6,231.9 L597.6,230.4 L599.6,228.8 L601.6,227.2 L603.6,225.6 L605.6,224.1 L607.6,222.5 L609.6,220.9 L611.6,219.3 L613.6,217.8 L615.6,216.2 L617.6,214.7 L619.6,213.1 L621.6,211.5 L623.6,210.0 L625.6,208.4 L627.6,206.9 L629.6,205.3 L631.6,203.8 L633.6,202.3 L635.6,200.7 L637.6,199.2 L639.6,197.7 L641.5,196.2 L643.5,194.7 L645.5,193.2 L647.5,191.7 L649.5,190.2 L651.5,188.7 L653.5,187.2 L655.5,185.7 L657.5,184.3 L659.5,182.8 L661.5,181.4 L663.5,179.9 L665.5,178.5 L667.5,177.1 L669.5,175.7 L671.5,174.3 L673.5,172.9 L675.5,171.5 L677.5,170.1 L679.5,168.8 L681.5,167.5 L683.5,166.2 L685.5,164.9 L687.5,163.6 L689.5,162.3 L691.5,161.1 L693.5,159.9 L695.5,158.7 L697.5,157.5 L699.5,156.4 L701.5,155.3 L703.5,154.2 L705.5,153.1 L707.5,152.0 L709.5,151.0 L711.5,150.0 L713.5,149.1 L715.5,148.2 L717.5,147.3 L719.5,146.4 L721.5,145.6 L723.5,144.8 L725.5,144.0 L727.5,143.3 L729.5,142.6 L731.5,141.9 L733.5,141.3 L735.5,140.6 L737.5,140.0 L739.5,139.5 L741.5,138.9 L743.5,138.4 L745.5,137.9 L747.5,137.4 L749.5,136.9 L751.4,136.4 L753.4,135.9 L755.4,135.5 L757.4,135.0 L759.4,134.6 L761.4,134.2 L763.4,133.8 L765.4,133.3 L767.4,132.9 L769.4,132.5 L771.4,132.1 L773.4,131.7 L775.4,131.2 L777.4,130.8 L779.4,130.4 L781.4,129.9 L783.4,129.5 L785.4,129.0 L787.4,128.5 L789.4,128.0 L791.4,127.5 L793.4,127.0 L795.4,126.5 L797.4,126.0 L799.4,125.4 L801.4,124.9 L803.4,124.3 L805.4,123.8 L807.4,123.2 L809.4,122.6 L811.4,122.0 L813.4,121.4 L815.4,120.8 L817.4,120.2 L819.4,119.5 L821.4,118.9 L823.4,118.2 L825.4,117.6 L827.4,116.9 L829.4,116.2 L831.4,115.5 L833.4,114.8 L835.4,114.1 L837.4,113.3 L839.4,112.6 L841.4,111.8 L843.4,111.1 L845.4,110.3 L847.4,109.5 L849.4,108.7 L851.4,107.9 L853.4,107.1 L855.4,106.3 L857.4,105.5 L859.4,104.6 L861.4,103.8 L863.3,102.9 L865.3,102.1 L867.3,101.2 L869.3,100.3 L871.3,99.4 L873.3,98.5 L875.3,97.6 L877.3,96.7 L879.3,95.7 L881.3,94.8 L883.3,93.9 L885.3,92.9 L887.3,92.0 L889.3,91.0 L891.3,90.0 L893.3,89.0 L895.3,88.1 L897.3,87.1 L899.3,86.1 L901.3,85.1 L903.3,84.1 L905.3,83.1 L907.3,82.1 L909.3,81.2 L911.3,80.2 L913.3,79.2 L915.3,78.2 L917.3,77.3 " stroke="#c80000" fill="none" stroke-width="4.6" stroke-linecap="round" stroke-linejoin="round"/>
</g>
<g stroke="#000" stroke-width="2.6" fill="none" stroke-linecap="butt">
<path d="M140.3,0 V666"/>
<path d="M139,653.4 H951.2 V666"/>
<path d="M127,609.5 H140 M127,435.6 H140 M127,261.7 H140 M127,87.7 H140"/>
<path d="M342.6,653 V666 M545,653 V666 M747.4,653 V666"/>
</g>
<g stroke-width="5" stroke-linecap="round">
<path d="M196,65.8 H270" stroke="#000"/>
<path d="M196,107.6 H270" stroke="#0014b0"/>
<path d="M196,149.3 H270" stroke="#c80000"/>
</g>
<g font-family="'Liberation Serif', serif" fill="#000" style="filter:grayscale(1)">
<g font-size="34" text-anchor="end">
<text transform="translate(117.5,620.2) scale(1,1.05)">1.0</text>
<text transform="translate(117.5,446.3) scale(1,1.05)">1.2</text>
<text transform="translate(117.5,272.2) scale(1,1.05)">1.4</text>
<text transform="translate(117.5,98.7) scale(1,1.05)">1.6</text>
</g>
<g font-size="34" text-anchor="middle">
<text transform="translate(140.3,701.3) scale(1,1.05)">1.0</text>
<text transform="translate(342.6,701.3) scale(1,1.05)">1.2</text>
<text transform="translate(545,701.3) scale(1,1.05)">1.4</text>
<text transform="translate(747.4,701.3) scale(1,1.05)">1.6</text>
<text transform="translate(949.8,701.3) scale(1,1.05)">1.8</text>
</g>
<text x="544.5" y="764.6" font-size="43.2" text-anchor="middle">Scattering power</text>
<text transform="translate(34.8,298.4) rotate(-90)" font-size="43" text-anchor="middle">&#916; Intensity (a.u.)</text>
<g font-size="34" transform="translate(0,0) scale(1,1.04)">
<text x="280" y="74.62">WLL</text>
<text x="280" y="114.71">PEL</text>
<text x="280" y="154.81">mPEL</text>
</g>
</g>
</svg></body></html>
